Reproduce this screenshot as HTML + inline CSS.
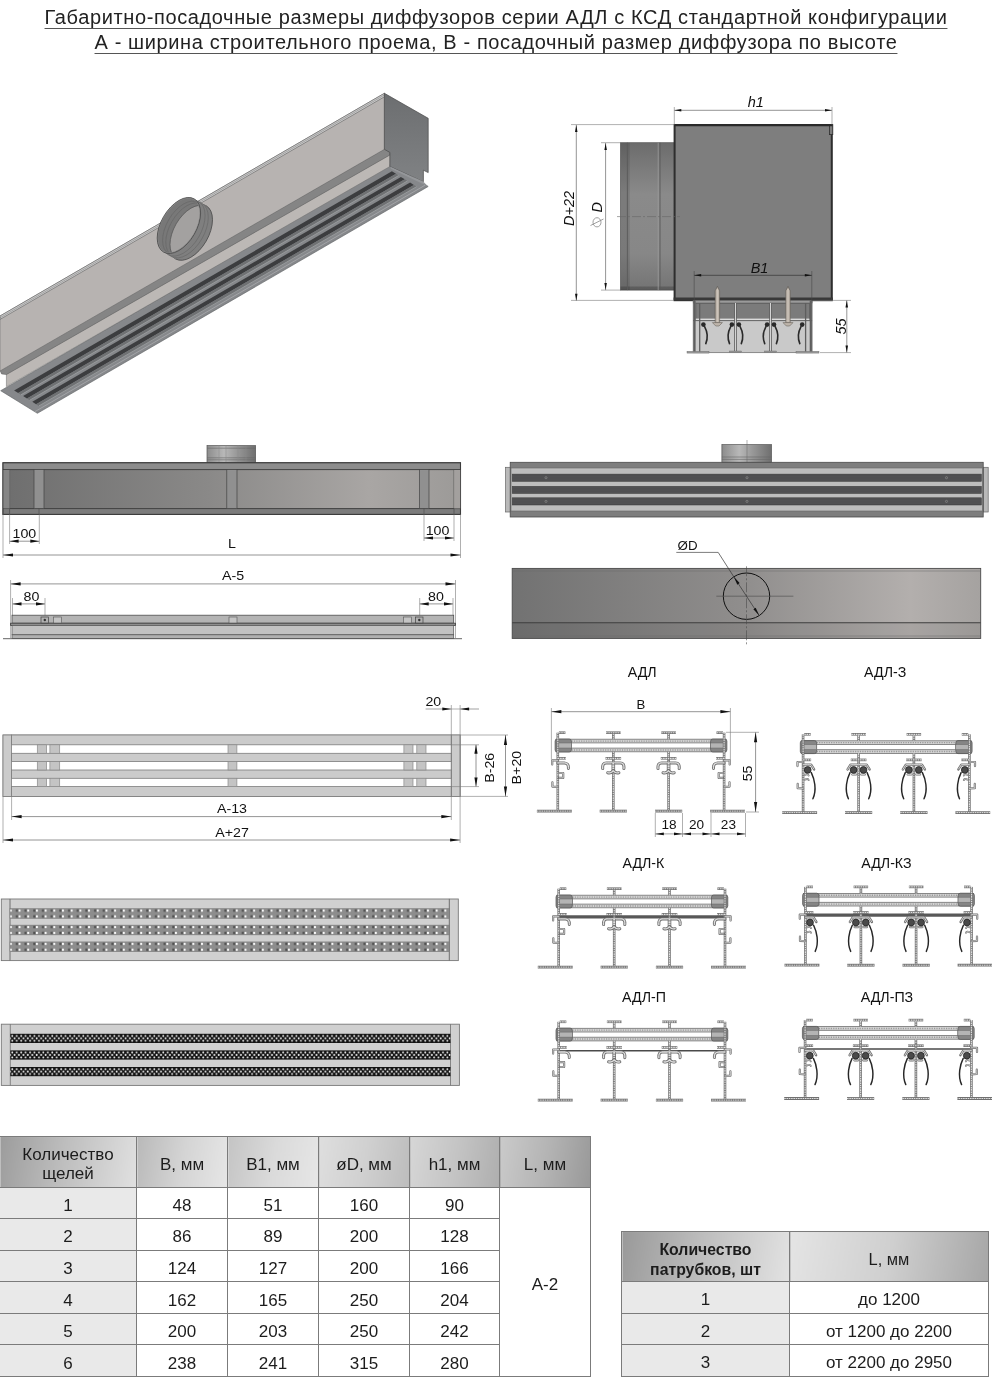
<!DOCTYPE html>
<html lang="ru"><head><meta charset="utf-8"><title>АДЛ с КСД</title>
<style>
html,body{margin:0;padding:0;background:#fff;}
body{width:992px;height:1385px;position:relative;overflow:hidden;font-family:"Liberation Sans",sans-serif;color:#1a1a1a;}
svg{position:absolute;left:0;top:0;}
.title,.tb,svg{will-change:transform;}
svg text{font-family:"Liberation Sans",sans-serif;}
.title{position:absolute;left:0;top:4.5px;width:992px;text-align:center;font-size:20px;line-height:24.7px;color:#222;letter-spacing:0.62px;}
.title span{text-decoration:underline;text-decoration-thickness:1px;text-underline-offset:4px;text-decoration-color:#555;text-decoration-skip-ink:none;white-space:nowrap;}
.tb{position:absolute;border-collapse:collapse;table-layout:fixed;font-size:17px;color:#1c1c1c;}
.tb td,.tb th{border:1px solid #7b7b7b;text-align:center;vertical-align:middle;padding:5px 0 0 0;font-weight:normal;overflow:hidden;box-sizing:border-box;}
.tb th{line-height:19.4px;}
#t1{left:-1px;top:1135.5px;width:591px;}
#t1 th{height:50.5px;}
#t1 td{height:31.6px;background:#fff;padding-top:6px;}
#t1 td.f{background:#e9e9e9;}
#t2{left:621px;top:1230.7px;width:367px;font-size:16.4px;}
#t2 th{height:50px;padding-top:6px;}
#t2 td{height:31.7px;background:#fff;font-size:17px;}
#t2 td.f{background:#e9e9e9;}
#t2 th.b{font-weight:bold;font-size:15.8px;}

</style></head><body>
<div class="title"><span>Габаритно-посадочные размеры диффузоров серии АДЛ с КСД стандартной конфигурации</span><br><span>А - ширина строительного проема, В - посадочный размер диффузора по высоте</span></div>
<svg width="992" height="1385" viewBox="0 0 992 1385">
<defs>
<linearGradient id="gFront" x1="0" y1="0" x2="1" y2="0"><stop offset="0" stop-color="#6e6e6e"/><stop offset="0.45" stop-color="#8a8988"/><stop offset="0.8" stop-color="#a9a6a4"/><stop offset="1" stop-color="#9c9a98"/></linearGradient>
<linearGradient id="gTop" x1="0" y1="0" x2="1" y2="0"><stop offset="0" stop-color="#727272"/><stop offset="0.5" stop-color="#908e8d"/><stop offset="0.85" stop-color="#b3afad"/><stop offset="1" stop-color="#a5a2a0"/></linearGradient>
<linearGradient id="gPipeH" x1="0" y1="0" x2="1" y2="0"><stop offset="0" stop-color="#8c8c8c"/><stop offset="0.35" stop-color="#b8b8b8"/><stop offset="0.6" stop-color="#9a9a9a"/><stop offset="1" stop-color="#6f6f6f"/></linearGradient>
<linearGradient id="gPipeV" x1="0" y1="0" x2="0" y2="1"><stop offset="0" stop-color="#6c6c6c"/><stop offset="0.35" stop-color="#8a8a8a"/><stop offset="0.75" stop-color="#878787"/><stop offset="1" stop-color="#747474"/></linearGradient>
<linearGradient id="gEnd" x1="0" y1="0" x2="0" y2="1"><stop offset="0" stop-color="#6c6e70"/><stop offset="1" stop-color="#808284"/></linearGradient>
<pattern id="pDots" x="0" y="0" width="8.69" height="9.8" patternUnits="userSpaceOnUse"><rect width="8.69" height="9.8" fill="#8d8d8d"/><rect x="1.2" y="0.7" width="2.4" height="2.5" fill="#4f4f4f"/><rect x="1.2" y="6.6" width="2.4" height="2.5" fill="#4f4f4f"/><circle cx="4.75" cy="1.95" r="1.2" fill="#fafafa"/><circle cx="4.75" cy="7.85" r="1.2" fill="#fafafa"/></pattern>
<pattern id="pPerf" x="0" y="0" width="4.44" height="9.3" patternUnits="userSpaceOnUse"><rect width="4.44" height="9.3" fill="#141414"/><circle cx="1.1" cy="2.2" r="0.95" fill="#f4f4f4"/><circle cx="3.32" cy="4.55" r="0.95" fill="#f4f4f4"/><circle cx="1.1" cy="6.9" r="0.95" fill="#f4f4f4"/></pattern>
<pattern id="pMesh" x="0" y="0" width="1.6" height="1.6" patternUnits="userSpaceOnUse"><rect width="1.6" height="1.6" fill="#4a4a4c"/><circle cx="0.8" cy="0.8" r="0.35" fill="#7a7a7c"/></pattern>
</defs>

<g id="iso">
<polygon points="0.7,390.7 37.4,413.3 428.2,186.5 391.5,163.9" fill="#86888b" stroke="#5d5f61" stroke-width="0.6" stroke-linejoin="round" />
<polygon points="14.1,390.6 18.2,393.1 396.0,173.8 391.9,171.3" fill="#3c3d3f" />
<polygon points="18.2,393.1 20.9,394.8 398.7,175.5 396.0,173.8" fill="#6f7173" />
<line x1="20.9" y1="394.8" x2="398.7" y2="175.5" stroke="#a4a6a8" stroke-width="0.7" />
<polygon points="23.1,396.1 27.0,398.5 404.8,179.2 400.9,176.9" fill="#3c3d3f" />
<polygon points="27.0,398.5 29.7,400.2 407.5,180.9 404.8,179.2" fill="#6f7173" />
<line x1="29.7" y1="400.2" x2="407.5" y2="180.9" stroke="#a4a6a8" stroke-width="0.7" />
<polygon points="32.3,401.8 36.1,404.2 413.9,184.9 410.1,182.5" fill="#3c3d3f" />
<polygon points="36.1,404.2 38.9,405.9 416.7,186.6 413.9,184.9" fill="#6f7173" />
<line x1="38.9" y1="405.9" x2="416.7" y2="186.6" stroke="#a4a6a8" stroke-width="0.7" />
<line x1="34.8" y1="411.7" x2="425.6" y2="184.9" stroke="#a9abad" stroke-width="0.8" />
<polygon points="6.4,374.2 6.4,386.6 389.9,166.5 389.9,154.6" fill="#bcb8b5" stroke="#6a6a6a" stroke-width="0.5" stroke-linejoin="round" />
<polygon points="0.0,370.8 6.4,374.2 389.9,154.6 389.3,151.6 384.4,149.3 0.0,371.2" fill="#808080" />
<polygon points="0.0,370.2 1.5,373.9 6.4,374.6 389.9,155.0 389.3,151.8 384.4,149.0" fill="#858585" stroke="#5c5c5c" stroke-width="0.5" stroke-linejoin="round" />
<polygon points="0.0,316.0 0.0,371.0 384.4,149.3 384.4,93.3" fill="#b7b3b1" stroke="#666" stroke-width="0.5" stroke-linejoin="round" />
<polygon points="0.0,316.0 0.0,319.4 384.4,96.8 384.4,93.3" fill="#cfcfcf" stroke="#5e5e5e" stroke-width="0.6" stroke-linejoin="round" />
<line x1="0.0" y1="317.8" x2="384.4" y2="95.0" stroke="#777" stroke-width="0.5" />
<polygon points="384.4,93.3 428.2,118.3 428.2,172.6 423.4,170.2 423.4,181.8 389.9,166.5 389.9,152.4 384.4,149.3" fill="url(#gEnd)" stroke="#4a4a4a" stroke-width="0.7" stroke-linejoin="round" />
<polygon points="389.9,166.5 423.4,181.8 428.2,186.5 391.0,168.8" fill="#95979a" />
<clipPath id="cpFront"><ellipse cx="178.9" cy="225.5" rx="29.6" ry="16.9" transform="rotate(-60 178.9 225.5)"/></clipPath>
<ellipse cx="190.8" cy="232.3" rx="30.7" ry="17.7" transform="rotate(-60 190.8 232.3)" fill="#7f7f7f" stroke="#4f4f4f" stroke-width="0.8" />
<polygon points="194.2,198.9 206.2,205.7 175.5,258.9 163.6,252.1" fill="#7f7f7f" />
<ellipse cx="186.6" cy="229.9" rx="30.7" ry="17.7" transform="rotate(-60 186.6 229.9)" fill="none" stroke="#686868" stroke-width="0.6" />
<ellipse cx="183.4" cy="228.1" rx="30.7" ry="17.7" transform="rotate(-60 183.4 228.1)" fill="none" stroke="#686868" stroke-width="0.6" />
<ellipse cx="178.9" cy="225.5" rx="30.7" ry="17.7" transform="rotate(-60 178.9 225.5)" fill="#888888" stroke="#4f4f4f" stroke-width="0.8" />
<ellipse cx="178.9" cy="225.5" rx="29.6" ry="16.9" transform="rotate(-60 178.9 225.5)" fill="#787878" />
<g clip-path="url(#cpFront)">
<ellipse cx="186.6" cy="229.9" rx="29.6" ry="16.9" transform="rotate(-60 186.6 229.9)" fill="none" stroke="#666" stroke-width="0.6" />
<ellipse cx="183.4" cy="228.1" rx="29.6" ry="16.9" transform="rotate(-60 183.4 228.1)" fill="none" stroke="#666" stroke-width="0.6" />
<ellipse cx="190.8" cy="232.3" rx="29.6" ry="16.9" transform="rotate(-60 190.8 232.3)" fill="#a3a1a0" stroke="#585858" stroke-width="0.7" />
</g>
</g>
<g id="xsec">
<rect x="620.5" y="142.7" width="54.0" height="147.4" fill="url(#gPipeV)" stroke="#5a5a5a" stroke-width="0.7" />
<rect x="620.5" y="142.7" width="9.3" height="147.4" fill="#000" stroke="none" stroke-width="0" opacity="0.1"/>
<rect x="620.5" y="286.5" width="54.0" height="3.6" fill="#000" stroke="none" stroke-width="0" opacity="0.2"/>
<line x1="627.4" y1="142.7" x2="627.4" y2="290.1" stroke="#5a5a5a" stroke-width="0.9" />
<line x1="660.0" y1="142.7" x2="660.0" y2="290.1" stroke="#5a5a5a" stroke-width="0.9" />
<line x1="658.2" y1="142.7" x2="658.2" y2="290.1" stroke="#9c9c9c" stroke-width="0.8" />
<rect x="674.6" y="125.0" width="157.2" height="175.2" fill="#7e7e7e" stroke="#2e2e2e" stroke-width="2" />
<rect x="829.5" y="124.6" width="3.3" height="10.0" fill="#7c7c7c" stroke="#2e2e2e" stroke-width="0.8" />
<line x1="674.3" y1="125.2" x2="832.6" y2="125.2" stroke="#2a2a2a" stroke-width="2.2" />
<line x1="673.6" y1="298.9" x2="832.8" y2="298.9" stroke="#383838" stroke-width="3" />
<line x1="617.0" y1="216.6" x2="680.0" y2="216.6" stroke="#666" stroke-width="0.6" stroke-dasharray="9 2 2 2"/>
<rect x="693.2" y="300.4" width="118.9" height="52.3" fill="#c9c9c9" stroke="#666" stroke-width="0.7" />
<rect x="695.8" y="303.0" width="113.6" height="16.5" fill="#7b7b7b" stroke="#4c4c4c" stroke-width="0.7" />
<rect x="693.2" y="300.4" width="118.9" height="2.6" fill="#9a9a9a" stroke="#555" stroke-width="0.5" />
<rect x="695.8" y="318.6" width="113.6" height="2.2" fill="#dcdcdc" />
<line x1="693.2" y1="320.6" x2="812.1" y2="320.6" stroke="#555" stroke-width="0.9" />
<line x1="694.5" y1="300.4" x2="694.5" y2="352.0" stroke="#5e5e5e" stroke-width="2.2" />
<line x1="810.8" y1="300.4" x2="810.8" y2="352.0" stroke="#5e5e5e" stroke-width="2.2" />
<line x1="699.7" y1="303.0" x2="699.7" y2="352.0" stroke="#5e5e5e" stroke-width="1.3" />
<line x1="805.6" y1="303.0" x2="805.6" y2="352.0" stroke="#5e5e5e" stroke-width="1.3" />
<line x1="735.5" y1="303.0" x2="735.5" y2="351.5" stroke="#5a5a5a" stroke-width="2.6" />
<line x1="735.5" y1="303.0" x2="735.5" y2="351.5" stroke="#d4d4d4" stroke-width="1.1" />
<rect x="729.5" y="351.0" width="12.0" height="1.8" fill="#999" stroke="#666" stroke-width="0.4" />
<line x1="770.5" y1="303.0" x2="770.5" y2="351.5" stroke="#5a5a5a" stroke-width="2.6" />
<line x1="770.5" y1="303.0" x2="770.5" y2="351.5" stroke="#d4d4d4" stroke-width="1.1" />
<rect x="764.5" y="351.0" width="12.0" height="1.8" fill="#999" stroke="#666" stroke-width="0.4" />
<rect x="687.0" y="351.3" width="22.0" height="1.8" fill="#999" stroke="#666" stroke-width="0.4" />
<rect x="796.0" y="351.3" width="23.0" height="1.8" fill="#999" stroke="#666" stroke-width="0.4" />
<polygon points="715.2,323.0 715.2,290.8 717.4,286.4 719.6,290.8 719.6,323.0" fill="#bdb4aa" stroke="#5a554f" stroke-width="0.6" stroke-linejoin="round" />
<polygon points="712.4,322.6 722.4,322.6 719.0,326.0 715.8,326.0" fill="#bdb4aa" stroke="#5a554f" stroke-width="0.5" stroke-linejoin="round" />
<line x1="717.4" y1="289.0" x2="717.4" y2="322.0" stroke="#d2cac1" stroke-width="0.8" />
<polygon points="785.8,323.0 785.8,290.8 788.0,286.4 790.2,290.8 790.2,323.0" fill="#bdb4aa" stroke="#5a554f" stroke-width="0.6" stroke-linejoin="round" />
<polygon points="783.0,322.6 793.0,322.6 789.6,326.0 786.4,326.0" fill="#bdb4aa" stroke="#5a554f" stroke-width="0.5" stroke-linejoin="round" />
<line x1="788.0" y1="289.0" x2="788.0" y2="322.0" stroke="#d2cac1" stroke-width="0.8" />
<circle cx="703.4" cy="324.6" r="2.3" fill="#2a2a2a"/>
<path d="M704.6,326.6 q4.6,8.5 1.2,17.0" fill="none" stroke="#2a2a2a" stroke-width="1.6" stroke-linecap="round"/>
<circle cx="731.9" cy="324.6" r="2.3" fill="#2a2a2a"/>
<path d="M730.7,326.6 q-4.6,8.5 -1.2,17.0" fill="none" stroke="#2a2a2a" stroke-width="1.6" stroke-linecap="round"/>
<circle cx="738.9" cy="324.6" r="2.3" fill="#2a2a2a"/>
<path d="M740.1,326.6 q4.6,8.5 1.2,17.0" fill="none" stroke="#2a2a2a" stroke-width="1.6" stroke-linecap="round"/>
<circle cx="767.1" cy="324.6" r="2.3" fill="#2a2a2a"/>
<path d="M765.9,326.6 q-4.6,8.5 -1.2,17.0" fill="none" stroke="#2a2a2a" stroke-width="1.6" stroke-linecap="round"/>
<circle cx="774.0" cy="324.6" r="2.3" fill="#2a2a2a"/>
<path d="M775.2,326.6 q4.6,8.5 1.2,17.0" fill="none" stroke="#2a2a2a" stroke-width="1.6" stroke-linecap="round"/>
<circle cx="802.2" cy="324.6" r="2.3" fill="#2a2a2a"/>
<path d="M801.0,326.6 q-4.6,8.5 -1.2,17.0" fill="none" stroke="#2a2a2a" stroke-width="1.6" stroke-linecap="round"/>
<line x1="674.3" y1="124.6" x2="674.3" y2="107.0" stroke="#7a7a7a" stroke-width="0.6" />
<line x1="832.0" y1="124.6" x2="832.0" y2="107.0" stroke="#7a7a7a" stroke-width="0.6" />
<line x1="674.3" y1="110.3" x2="832.0" y2="110.3" stroke="#7a7a7a" stroke-width="0.8" />
<polygon points="674.3,110.3 681.3,109.0 681.3,111.5" fill="#111"/>
<polygon points="832.0,110.3 825.0,111.5 825.0,109.0" fill="#111"/>
<text x="0" y="0" transform="translate(755.8 107.0)" font-size="14.5" text-anchor="middle" fill="#111" font-weight="normal" font-style="italic">h1</text>
<line x1="674.0" y1="124.6" x2="571.0" y2="124.6" stroke="#7a7a7a" stroke-width="0.6" />
<line x1="674.0" y1="300.4" x2="571.0" y2="300.4" stroke="#7a7a7a" stroke-width="0.6" />
<line x1="576.3" y1="124.9" x2="576.3" y2="300.7" stroke="#7a7a7a" stroke-width="0.8" />
<polygon points="576.3,124.9 577.5,131.9 575.0,131.9" fill="#111"/>
<polygon points="576.3,300.7 575.0,293.7 577.5,293.7" fill="#111"/>
<text x="0" y="0" transform="translate(573.5 208.5) rotate(-90)" font-size="14.5" text-anchor="middle" fill="#111" font-weight="normal" font-style="italic">D+22</text>
<line x1="620.5" y1="142.7" x2="601.0" y2="142.7" stroke="#7a7a7a" stroke-width="0.6" />
<line x1="620.5" y1="290.1" x2="601.0" y2="290.1" stroke="#7a7a7a" stroke-width="0.6" />
<line x1="605.6" y1="143.1" x2="605.6" y2="290.1" stroke="#7a7a7a" stroke-width="0.8" />
<polygon points="605.6,143.1 606.9,150.1 604.4,150.1" fill="#111"/>
<polygon points="605.6,290.1 604.4,283.1 606.9,283.1" fill="#111"/>
<text x="0" y="0" transform="translate(602.3 207.2) rotate(-90)" font-size="14.5" text-anchor="middle" fill="#111" font-weight="normal" font-style="italic">D</text>
<g><ellipse cx="597" cy="222.3" rx="4" ry="4.6" fill="none" stroke="#888" stroke-width="0.8"/><line x1="590.5" y1="225.5" x2="603.5" y2="219" stroke="#888" stroke-width="0.8"/></g>
<line x1="694.2" y1="271.0" x2="694.2" y2="301.0" stroke="#4a4a4a" stroke-width="0.6" />
<line x1="811.8" y1="271.0" x2="811.8" y2="301.0" stroke="#4a4a4a" stroke-width="0.6" />
<line x1="694.2" y1="275.3" x2="811.8" y2="275.3" stroke="#333" stroke-width="0.7" />
<polygon points="694.2,275.3 701.2,274.1 701.2,276.6" fill="#111"/>
<polygon points="811.8,275.3 804.8,276.6 804.8,274.1" fill="#111"/>
<text x="0" y="0" transform="translate(759.5 272.5)" font-size="14.5" text-anchor="middle" fill="#111" font-weight="normal" font-style="italic">B1</text>
<line x1="813.0" y1="300.4" x2="851.0" y2="300.4" stroke="#7a7a7a" stroke-width="0.6" />
<line x1="820.0" y1="352.6" x2="851.0" y2="352.6" stroke="#7a7a7a" stroke-width="0.6" />
<line x1="846.8" y1="300.4" x2="846.8" y2="352.6" stroke="#7a7a7a" stroke-width="0.8" />
<polygon points="846.8,300.4 848.0,307.4 845.5,307.4" fill="#111"/>
<polygon points="846.8,352.6 845.5,345.6 848.0,345.6" fill="#111"/>
<text x="0" y="0" transform="translate(845.5 326.5) rotate(-90)" font-size="14.5" text-anchor="middle" fill="#111" font-weight="normal" font-style="italic">55</text>
</g>
<g id="front">
<rect x="207.0" y="445.6" width="48.6" height="17.5" fill="url(#gPipeH)" stroke="#555" stroke-width="0.7" />
<line x1="207.0" y1="448.2" x2="255.6" y2="448.2" stroke="#666" stroke-width="0.6" />
<line x1="207.0" y1="457.8" x2="255.6" y2="457.8" stroke="#666" stroke-width="0.6" />
<line x1="207.0" y1="459.8" x2="255.6" y2="459.8" stroke="#666" stroke-width="0.6" />
<line x1="219.0" y1="445.6" x2="219.0" y2="463.0" stroke="#8a8a8a" stroke-width="0.5" />
<line x1="226.0" y1="445.6" x2="226.0" y2="463.0" stroke="#8a8a8a" stroke-width="0.5" />
<line x1="238.0" y1="445.6" x2="238.0" y2="463.0" stroke="#8a8a8a" stroke-width="0.5" />
<line x1="246.0" y1="445.6" x2="246.0" y2="463.0" stroke="#8a8a8a" stroke-width="0.5" />
<rect x="3.0" y="462.8" width="457.5" height="51.6" fill="#808080" stroke="#3c3c3c" stroke-width="1" />
<rect x="3.0" y="469.6" width="457.5" height="39.0" fill="url(#gFront)" />
<rect x="3.0" y="462.8" width="457.5" height="6.8" fill="#8c8c8c" />
<rect x="3.0" y="508.6" width="457.5" height="5.8" fill="#7c7c7c" />
<line x1="3.0" y1="469.6" x2="460.5" y2="469.6" stroke="#3a3a3a" stroke-width="0.9" />
<line x1="3.0" y1="508.6" x2="460.5" y2="508.6" stroke="#3a3a3a" stroke-width="0.9" />
<rect x="3.0" y="462.8" width="457.5" height="51.6" fill="none" stroke="#3c3c3c" stroke-width="1.1" />
<rect x="34.0" y="469.6" width="10.0" height="39.0" fill="#909090" stroke="#444" stroke-width="0.7" />
<rect x="226.8" y="469.6" width="10.2" height="39.0" fill="#909090" stroke="#444" stroke-width="0.7" />
<rect x="419.4" y="469.6" width="9.6" height="39.0" fill="#909090" stroke="#444" stroke-width="0.7" />
<line x1="9.6" y1="469.6" x2="9.6" y2="514.4" stroke="#4a4a4a" stroke-width="0.7" />
<line x1="454.0" y1="469.6" x2="454.0" y2="514.4" stroke="#4a4a4a" stroke-width="0.7" />
<rect x="3.5" y="470.0" width="6.0" height="38.4" fill="#858585" />
<rect x="454.2" y="470.0" width="6.0" height="38.4" fill="#a3a09e" />
<line x1="39.0" y1="508.6" x2="39.0" y2="514.4" stroke="#4a4a4a" stroke-width="0.6" />
<line x1="424.0" y1="508.6" x2="424.0" y2="514.4" stroke="#4a4a4a" stroke-width="0.6" />
<line x1="9.6" y1="514.4" x2="9.6" y2="544.0" stroke="#7a7a7a" stroke-width="0.6" />
<line x1="39.3" y1="514.4" x2="39.3" y2="544.0" stroke="#7a7a7a" stroke-width="0.6" />
<line x1="9.6" y1="541.2" x2="39.3" y2="541.2" stroke="#7a7a7a" stroke-width="0.8" />
<polygon points="9.6,541.2 18.6,539.6 18.6,542.8" fill="#111"/>
<polygon points="39.3,541.2 30.3,542.8 30.3,539.6" fill="#111"/>
<text x="0" y="0" transform="translate(24.4 537.5) scale(1.07 1)" font-size="13.3" text-anchor="middle" fill="#111" font-weight="normal" >100</text>
<line x1="424.0" y1="514.4" x2="424.0" y2="541.0" stroke="#7a7a7a" stroke-width="0.6" />
<line x1="454.0" y1="514.4" x2="454.0" y2="541.0" stroke="#7a7a7a" stroke-width="0.6" />
<line x1="424.0" y1="538.0" x2="454.0" y2="538.0" stroke="#7a7a7a" stroke-width="0.8" />
<polygon points="424.0,538.0 433.0,536.4 433.0,539.6" fill="#111"/>
<polygon points="454.0,538.0 445.0,539.6 445.0,536.4" fill="#111"/>
<text x="0" y="0" transform="translate(437.5 534.5) scale(1.07 1)" font-size="13.3" text-anchor="middle" fill="#111" font-weight="normal" >100</text>
<line x1="3.0" y1="514.4" x2="3.0" y2="558.0" stroke="#7a7a7a" stroke-width="0.6" />
<line x1="460.5" y1="514.4" x2="460.5" y2="558.0" stroke="#7a7a7a" stroke-width="0.6" />
<line x1="3.0" y1="555.0" x2="460.5" y2="555.0" stroke="#7a7a7a" stroke-width="0.8" />
<polygon points="3.0,555.0 13.0,553.4 13.0,556.6" fill="#111"/>
<polygon points="460.5,555.0 450.5,556.6 450.5,553.4" fill="#111"/>
<text x="0" y="0" transform="translate(232.0 548.3) scale(1.07 1)" font-size="13.3" text-anchor="middle" fill="#111" font-weight="normal" >L</text>
</g>
<g id="strip">
<line x1="10.6" y1="580.0" x2="10.6" y2="638.0" stroke="#7a7a7a" stroke-width="0.6" />
<line x1="455.5" y1="580.0" x2="455.5" y2="638.0" stroke="#7a7a7a" stroke-width="0.6" />
<line x1="10.6" y1="583.9" x2="455.5" y2="583.9" stroke="#7a7a7a" stroke-width="0.8" />
<polygon points="10.6,583.9 20.6,582.3 20.6,585.5" fill="#111"/>
<polygon points="455.5,583.9 445.5,585.5 445.5,582.3" fill="#111"/>
<text x="0" y="0" transform="translate(233.0 580.3) scale(1.07 1)" font-size="13.3" text-anchor="middle" fill="#111" font-weight="normal" >A-5</text>
<line x1="12.5" y1="598.0" x2="12.5" y2="616.0" stroke="#7a7a7a" stroke-width="0.6" />
<line x1="45.0" y1="598.0" x2="45.0" y2="622.0" stroke="#7a7a7a" stroke-width="0.6" />
<line x1="12.5" y1="603.9" x2="45.0" y2="603.9" stroke="#7a7a7a" stroke-width="0.8" />
<polygon points="12.5,603.9 21.5,602.3 21.5,605.5" fill="#111"/>
<polygon points="45.0,603.9 36.0,605.5 36.0,602.3" fill="#111"/>
<text x="0" y="0" transform="translate(31.5 600.8) scale(1.07 1)" font-size="13.3" text-anchor="middle" fill="#111" font-weight="normal" >80</text>
<line x1="419.7" y1="598.0" x2="419.7" y2="622.0" stroke="#7a7a7a" stroke-width="0.6" />
<line x1="453.0" y1="598.0" x2="453.0" y2="616.0" stroke="#7a7a7a" stroke-width="0.6" />
<line x1="419.7" y1="603.9" x2="453.0" y2="603.9" stroke="#7a7a7a" stroke-width="0.8" />
<polygon points="419.7,603.9 428.7,602.3 428.7,605.5" fill="#111"/>
<polygon points="453.0,603.9 444.0,605.5 444.0,602.3" fill="#111"/>
<text x="0" y="0" transform="translate(436.0 600.8) scale(1.07 1)" font-size="13.3" text-anchor="middle" fill="#111" font-weight="normal" >80</text>
<rect x="12.0" y="615.2" width="441.7" height="8.0" fill="#b4b4b4" stroke="#4e4e4e" stroke-width="0.8" />
<rect x="10.6" y="623.2" width="444.9" height="2.2" fill="#8e8e8e" stroke="#3c3c3c" stroke-width="0.8" />
<rect x="12.0" y="625.4" width="441.7" height="9.4" fill="#c2c2c2" stroke="#555" stroke-width="0.7" />
<rect x="12.0" y="634.8" width="441.7" height="3.6" fill="#b0b0b0" stroke="#555" stroke-width="0.7" />
<line x1="3.0" y1="638.7" x2="462.0" y2="638.7" stroke="#555" stroke-width="0.9" />
<rect x="53.5" y="617.0" width="8.0" height="6.0" fill="#c4c4c4" stroke="#555" stroke-width="0.6" />
<rect x="229.0" y="617.0" width="8.0" height="6.0" fill="#c4c4c4" stroke="#555" stroke-width="0.6" />
<rect x="403.5" y="617.0" width="8.0" height="6.0" fill="#c4c4c4" stroke="#555" stroke-width="0.6" />
<rect x="41.0" y="617.0" width="7.5" height="6.0" fill="#b0b0b0" stroke="#444" stroke-width="0.7" />
<circle cx="44.8" cy="620" r="1.2" fill="#333"/>
<rect x="415.5" y="617.0" width="7.5" height="6.0" fill="#b0b0b0" stroke="#444" stroke-width="0.7" />
<circle cx="419.3" cy="620" r="1.2" fill="#333"/>
</g>
<g id="bottomview">
<rect x="721.9" y="444.6" width="49.6" height="18.0" fill="url(#gPipeH)" stroke="#555" stroke-width="0.7" />
<line x1="721.9" y1="457.0" x2="771.5" y2="457.0" stroke="#666" stroke-width="0.6" />
<line x1="721.9" y1="459.4" x2="771.5" y2="459.4" stroke="#666" stroke-width="0.6" />
<line x1="747.0" y1="440.0" x2="747.0" y2="465.0" stroke="#666" stroke-width="0.5" />
<rect x="505.6" y="467.3" width="5.0" height="44.7" fill="#b9b9b9" stroke="#666" stroke-width="0.7" />
<rect x="983.2" y="467.3" width="5.0" height="44.7" fill="#b9b9b9" stroke="#666" stroke-width="0.7" />
<rect x="510.2" y="462.3" width="473.0" height="54.7" fill="#7e7e7e" stroke="#4a4a4a" stroke-width="0.8" />
<rect x="511.0" y="468.0" width="471.4" height="43.0" fill="#bdbdbd" stroke="#666" stroke-width="0.6" />
<rect x="512.2" y="474.1" width="469.2" height="7.3" fill="url(#pMesh)" stroke="#3a3a3a" stroke-width="0.5" />
<rect x="512.2" y="486.3" width="469.2" height="7.2" fill="url(#pMesh)" stroke="#3a3a3a" stroke-width="0.5" />
<rect x="512.2" y="497.8" width="469.2" height="7.2" fill="url(#pMesh)" stroke="#3a3a3a" stroke-width="0.5" />
<circle cx="546" cy="477.7" r="1.1" fill="#555" stroke="#aaa" stroke-width="0.4"/>
<circle cx="546" cy="501.4" r="1.1" fill="#555" stroke="#aaa" stroke-width="0.4"/>
<circle cx="747" cy="477.7" r="1.1" fill="#555" stroke="#aaa" stroke-width="0.4"/>
<circle cx="747" cy="501.4" r="1.1" fill="#555" stroke="#aaa" stroke-width="0.4"/>
<circle cx="946.5" cy="477.7" r="1.1" fill="#555" stroke="#aaa" stroke-width="0.4"/>
<circle cx="946.5" cy="501.4" r="1.1" fill="#555" stroke="#aaa" stroke-width="0.4"/>
</g>
<g id="topview">
<rect x="512.2" y="568.4" width="468.5" height="70.0" fill="url(#gTop)" stroke="#4a4a4a" stroke-width="0.9" />
<rect x="512.2" y="622.7" width="468.5" height="16.0" fill="#000" stroke="none" stroke-width="0" opacity="0.06"/>
<line x1="512.2" y1="622.7" x2="980.7" y2="622.7" stroke="#3e3e3e" stroke-width="1.1" />
<line x1="512.2" y1="571.0" x2="980.7" y2="571.0" stroke="#6a6a6a" stroke-width="0.5" />
<line x1="512.2" y1="636.0" x2="980.7" y2="636.0" stroke="#6a6a6a" stroke-width="0.5" />
<circle cx="746.5" cy="596.2" r="23.2" fill="none" stroke="#111" stroke-width="1"/>
<line x1="716.3" y1="596.2" x2="793.4" y2="596.2" stroke="#4a4a4a" stroke-width="0.6" />
<line x1="746.5" y1="566.3" x2="746.5" y2="645.2" stroke="#4a4a4a" stroke-width="0.6" stroke-dasharray="10 2 2 2"/>
<line x1="676.3" y1="552.4" x2="718.2" y2="552.4" stroke="#444" stroke-width="0.7" />
<line x1="718.2" y1="552.4" x2="733.8" y2="576.8" stroke="#333" stroke-width="0.7" />
<line x1="733.8" y1="576.8" x2="759.2" y2="615.6" stroke="#333" stroke-width="0.7" />
<polygon points="733.8,576.8 739.6,583.1 737.3,584.7" fill="#111"/>
<polygon points="759.2,615.6 753.4,609.3 755.7,607.7" fill="#111"/>
<text x="0" y="0" transform="translate(677.6 549.9)" font-size="13.3" text-anchor="start" fill="#111" font-weight="normal" >ØD</text>
</g>
<g id="grille1">
<rect x="3.0" y="735.0" width="457.1" height="61.4" fill="#fff" stroke="#7c7c7c" stroke-width="0.8" />
<rect x="3.0" y="735.0" width="8.6" height="61.4" fill="#cbcbcb" stroke="#7c7c7c" stroke-width="0.8" />
<rect x="451.3" y="735.0" width="8.8" height="61.4" fill="#cbcbcb" stroke="#7c7c7c" stroke-width="0.8" />
<rect x="11.6" y="735.0" width="439.7" height="9.8" fill="#cbcbcb" stroke="#7c7c7c" stroke-width="0.8" />
<rect x="11.6" y="753.3" width="439.7" height="8.3" fill="#cbcbcb" stroke="#7c7c7c" stroke-width="0.8" />
<rect x="11.6" y="770.0" width="439.7" height="8.3" fill="#cbcbcb" stroke="#7c7c7c" stroke-width="0.8" />
<rect x="11.6" y="786.6" width="439.7" height="9.8" fill="#cbcbcb" stroke="#7c7c7c" stroke-width="0.8" />
<rect x="37.3" y="744.8" width="9.3" height="8.5" fill="#c4c4c4" stroke="#8a8a8a" stroke-width="0.7" />
<rect x="49.9" y="744.8" width="9.8" height="8.5" fill="#c4c4c4" stroke="#8a8a8a" stroke-width="0.7" />
<rect x="228.0" y="744.8" width="8.9" height="8.5" fill="#c4c4c4" stroke="#8a8a8a" stroke-width="0.7" />
<rect x="403.9" y="744.8" width="9.1" height="8.5" fill="#c4c4c4" stroke="#8a8a8a" stroke-width="0.7" />
<rect x="416.8" y="744.8" width="9.2" height="8.5" fill="#c4c4c4" stroke="#8a8a8a" stroke-width="0.7" />
<rect x="37.3" y="761.6" width="9.3" height="8.4" fill="#c4c4c4" stroke="#8a8a8a" stroke-width="0.7" />
<rect x="49.9" y="761.6" width="9.8" height="8.4" fill="#c4c4c4" stroke="#8a8a8a" stroke-width="0.7" />
<rect x="228.0" y="761.6" width="8.9" height="8.4" fill="#c4c4c4" stroke="#8a8a8a" stroke-width="0.7" />
<rect x="403.9" y="761.6" width="9.1" height="8.4" fill="#c4c4c4" stroke="#8a8a8a" stroke-width="0.7" />
<rect x="416.8" y="761.6" width="9.2" height="8.4" fill="#c4c4c4" stroke="#8a8a8a" stroke-width="0.7" />
<rect x="37.3" y="778.3" width="9.3" height="8.3" fill="#c4c4c4" stroke="#8a8a8a" stroke-width="0.7" />
<rect x="49.9" y="778.3" width="9.8" height="8.3" fill="#c4c4c4" stroke="#8a8a8a" stroke-width="0.7" />
<rect x="228.0" y="778.3" width="8.9" height="8.3" fill="#c4c4c4" stroke="#8a8a8a" stroke-width="0.7" />
<rect x="403.9" y="778.3" width="9.1" height="8.3" fill="#c4c4c4" stroke="#8a8a8a" stroke-width="0.7" />
<rect x="416.8" y="778.3" width="9.2" height="8.3" fill="#c4c4c4" stroke="#8a8a8a" stroke-width="0.7" />
<line x1="11.6" y1="796.4" x2="11.6" y2="820.0" stroke="#7a7a7a" stroke-width="0.6" />
<line x1="3.0" y1="796.4" x2="3.0" y2="843.0" stroke="#7a7a7a" stroke-width="0.6" />
<line x1="451.3" y1="705.0" x2="451.3" y2="820.0" stroke="#7a7a7a" stroke-width="0.6" />
<line x1="460.1" y1="705.0" x2="460.1" y2="843.0" stroke="#7a7a7a" stroke-width="0.6" />
<line x1="11.6" y1="816.6" x2="451.3" y2="816.6" stroke="#7a7a7a" stroke-width="0.8" />
<polygon points="11.6,816.6 21.6,815.0 21.6,818.2" fill="#111"/>
<polygon points="451.3,816.6 441.3,818.2 441.3,815.0" fill="#111"/>
<line x1="3.0" y1="840.0" x2="460.1" y2="840.0" stroke="#7a7a7a" stroke-width="0.8" />
<polygon points="3.0,840.0 13.0,838.4 13.0,841.6" fill="#111"/>
<polygon points="460.1,840.0 450.1,841.6 450.1,838.4" fill="#111"/>
<text x="0" y="0" transform="translate(232.0 813.0) scale(1.07 1)" font-size="13.3" text-anchor="middle" fill="#111" font-weight="normal" >A-13</text>
<text x="0" y="0" transform="translate(232.0 837.0) scale(1.07 1)" font-size="13.3" text-anchor="middle" fill="#111" font-weight="normal" >A+27</text>
<line x1="425.6" y1="709.0" x2="451.3" y2="709.0" stroke="#7a7a7a" stroke-width="0.7" />
<line x1="460.1" y1="709.0" x2="479.0" y2="709.0" stroke="#7a7a7a" stroke-width="0.7" />
<line x1="451.3" y1="709.0" x2="460.1" y2="709.0" stroke="#7a7a7a" stroke-width="0.6" />
<polygon points="451.3,709.0 442.3,710.6 442.3,707.4" fill="#111"/>
<polygon points="460.1,709.0 469.1,707.4 469.1,710.6" fill="#111"/>
<text x="0" y="0" transform="translate(433.3 705.6) scale(1.07 1)" font-size="13.3" text-anchor="middle" fill="#111" font-weight="normal" >20</text>
<line x1="460.1" y1="735.0" x2="508.0" y2="735.0" stroke="#7a7a7a" stroke-width="0.6" />
<line x1="460.1" y1="796.4" x2="508.0" y2="796.4" stroke="#7a7a7a" stroke-width="0.6" />
<line x1="451.3" y1="744.8" x2="479.0" y2="744.8" stroke="#7a7a7a" stroke-width="0.6" />
<line x1="451.3" y1="786.6" x2="479.0" y2="786.6" stroke="#7a7a7a" stroke-width="0.6" />
<line x1="476.0" y1="744.8" x2="476.0" y2="786.6" stroke="#7a7a7a" stroke-width="0.8" />
<polygon points="476.0,744.8 477.6,753.8 474.4,753.8" fill="#111"/>
<polygon points="476.0,786.6 474.4,777.6 477.6,777.6" fill="#111"/>
<line x1="505.5" y1="735.0" x2="505.5" y2="796.4" stroke="#7a7a7a" stroke-width="0.8" />
<polygon points="505.5,735.0 507.1,745.0 503.9,745.0" fill="#111"/>
<polygon points="505.5,796.4 503.9,786.4 507.1,786.4" fill="#111"/>
<text x="0" y="0" transform="translate(493.5 767.8) rotate(-90) scale(1.07 1)" font-size="13.3" text-anchor="middle" fill="#111" font-weight="normal" >B-26</text>
<text x="0" y="0" transform="translate(521.0 767.6) rotate(-90) scale(1.07 1)" font-size="13.3" text-anchor="middle" fill="#111" font-weight="normal" >B+20</text>
</g>
<g id="grille2">
<rect x="1.3" y="899.0" width="457.0" height="61.6" fill="#d0d0d0" stroke="#787878" stroke-width="0.9" />
<line x1="10.0" y1="898.9" x2="10.0" y2="960.6" stroke="#6e6e6e" stroke-width="1" />
<line x1="449.3" y1="898.9" x2="449.3" y2="960.6" stroke="#6e6e6e" stroke-width="1" />
<g transform="translate(6 908.6)"><rect x="4" y="0" width="439.3" height="9.8" fill="url(#pDots)" stroke="#777" stroke-width="0.5"/></g>
<g transform="translate(6 925.1)"><rect x="4" y="0" width="439.3" height="9.8" fill="url(#pDots)" stroke="#777" stroke-width="0.5"/></g>
<g transform="translate(6 941.9)"><rect x="4" y="0" width="439.3" height="9.8" fill="url(#pDots)" stroke="#777" stroke-width="0.5"/></g>
</g>
<g id="grille3">
<rect x="1.3" y="1024.2" width="458.1" height="61.2" fill="#d0d0d0" stroke="#787878" stroke-width="0.9" />
<line x1="10.3" y1="1024.2" x2="10.3" y2="1085.4" stroke="#707070" stroke-width="0.8" />
<line x1="450.5" y1="1024.2" x2="450.5" y2="1085.4" stroke="#707070" stroke-width="0.8" />
<g transform="translate(11.2 1033.8)"><rect x="-0.9" y="0" width="440.2" height="9.2" fill="url(#pPerf)"/></g>
<g transform="translate(11.2 1050.4)"><rect x="-0.9" y="0" width="440.2" height="9.2" fill="url(#pPerf)"/></g>
<g transform="translate(11.2 1067)"><rect x="-0.9" y="0" width="440.2" height="9.2" fill="url(#pPerf)"/></g>
</g>
<g>
<rect x="556.1" y="739.2" width="169.8" height="3.7" fill="#d4d4d4" stroke="#707070" stroke-width="0.8" />
<rect x="556.1" y="748.1" width="169.8" height="3.7" fill="#d4d4d4" stroke="#707070" stroke-width="0.8" />
<line x1="557.1" y1="741.1" x2="724.9" y2="741.1" stroke="#9a9a9a" stroke-width="1.4" stroke-dasharray="1.2 1.2"/>
<line x1="557.1" y1="750.0" x2="724.9" y2="750.0" stroke="#9a9a9a" stroke-width="1.4" stroke-dasharray="1.2 1.2"/>
<rect x="555.1" y="739.0" width="16.3" height="13" rx="2.2" fill="#858585" stroke="#505050" stroke-width="0.7"/>
<rect x="556.6" y="743.0" width="14.8" height="5" fill="#b4b4b4" stroke="#666" stroke-width="0.5"/>
<rect x="710.6" y="739.0" width="16.3" height="13" rx="2.2" fill="#858585" stroke="#505050" stroke-width="0.7"/>
<rect x="710.6" y="743.0" width="14.8" height="5" fill="#b4b4b4" stroke="#666" stroke-width="0.5"/>
<path d="M558.9,732.7 H565.4" fill="none" stroke="#707070" stroke-width="2.6" stroke-linecap="butt" stroke-linejoin="round"/>
<path d="M558.9,732.7 H565.4" fill="none" stroke="#e0e0e0" stroke-width="1.15" stroke-linecap="butt" stroke-linejoin="round" stroke-dasharray="1.6 0.7"/>
<path d="M557.8,732.7 V811.1" fill="none" stroke="#707070" stroke-width="2.6" stroke-linecap="butt" stroke-linejoin="round"/>
<path d="M557.8,732.7 V811.1" fill="none" stroke="#e0e0e0" stroke-width="1.15" stroke-linecap="butt" stroke-linejoin="round" stroke-dasharray="1.6 0.7"/>
<path d="M557.8,758.3 H565.8" fill="none" stroke="#707070" stroke-width="2.6" stroke-linecap="butt" stroke-linejoin="round"/>
<path d="M557.8,758.3 H565.8" fill="none" stroke="#e0e0e0" stroke-width="1.15" stroke-linecap="butt" stroke-linejoin="round" stroke-dasharray="1.6 0.7"/>
<path d="M536.9,811.1 H571.8" fill="none" stroke="#707070" stroke-width="2.8" stroke-linecap="butt" stroke-linejoin="round"/>
<path d="M536.9,811.1 H571.8" fill="none" stroke="#e0e0e0" stroke-width="1.0" stroke-linecap="butt" stroke-linejoin="round" stroke-dasharray="1.6 0.7"/>
<path d="M557.8,760.4 H552.2 V764.5" fill="none" stroke="#707070" stroke-width="2.2" stroke-linecap="round" stroke-linejoin="round"/>
<path d="M557.8,760.4 H552.2 V764.5" fill="none" stroke="#e0e0e0" stroke-width="0.8" stroke-linecap="round" stroke-linejoin="round" stroke-dasharray="1.6 0.7"/>
<path d="M552.4,782.3 V786.6 L557.8,786.9" fill="none" stroke="#707070" stroke-width="2.2" stroke-linecap="round" stroke-linejoin="round"/>
<path d="M552.4,782.3 V786.6 L557.8,786.9" fill="none" stroke="#e0e0e0" stroke-width="0.8" stroke-linecap="round" stroke-linejoin="round" stroke-dasharray="1.6 0.7"/>
<path d="M557.8,762.9 H564.3 Q568.8,763.2 568.4,768.4" fill="none" stroke="#707070" stroke-width="3.0" stroke-linecap="round" stroke-linejoin="round"/>
<path d="M557.8,762.9 H564.3 Q568.8,763.2 568.4,768.4" fill="none" stroke="#e0e0e0" stroke-width="1.3" stroke-linecap="round" stroke-linejoin="round" stroke-dasharray="1.6 0.7"/>
<path d="M558.8,773.0 H563.2 V777.9 H558.8" fill="none" stroke="#707070" stroke-width="2.2" stroke-linecap="round" stroke-linejoin="round"/>
<path d="M558.8,773.0 H563.2 V777.9 H558.8" fill="none" stroke="#e0e0e0" stroke-width="0.8" stroke-linecap="round" stroke-linejoin="round" stroke-dasharray="1.6 0.7"/>
<path d="M606.0,732.7 H620.6" fill="none" stroke="#707070" stroke-width="2.6" stroke-linecap="butt" stroke-linejoin="round"/>
<path d="M606.0,732.7 H620.6" fill="none" stroke="#e0e0e0" stroke-width="1.15" stroke-linecap="butt" stroke-linejoin="round" stroke-dasharray="1.6 0.7"/>
<path d="M613.3,733.7 V739.2" fill="none" stroke="#707070" stroke-width="2.6" stroke-linecap="butt" stroke-linejoin="round"/>
<path d="M613.3,733.7 V739.2" fill="none" stroke="#e0e0e0" stroke-width="1.15" stroke-linecap="butt" stroke-linejoin="round" stroke-dasharray="1.6 0.7"/>
<path d="M613.3,751.7 V763.0" fill="none" stroke="#707070" stroke-width="2.6" stroke-linecap="butt" stroke-linejoin="round"/>
<path d="M613.3,751.7 V763.0" fill="none" stroke="#e0e0e0" stroke-width="1.15" stroke-linecap="butt" stroke-linejoin="round" stroke-dasharray="1.6 0.7"/>
<path d="M605.5,758.3 H621.1" fill="none" stroke="#707070" stroke-width="2.6" stroke-linecap="butt" stroke-linejoin="round"/>
<path d="M605.5,758.3 H621.1" fill="none" stroke="#e0e0e0" stroke-width="1.15" stroke-linecap="butt" stroke-linejoin="round" stroke-dasharray="1.6 0.7"/>
<path d="M613.3,772.0 V811.1" fill="none" stroke="#707070" stroke-width="2.6" stroke-linecap="butt" stroke-linejoin="round"/>
<path d="M613.3,772.0 V811.1" fill="none" stroke="#e0e0e0" stroke-width="1.15" stroke-linecap="butt" stroke-linejoin="round" stroke-dasharray="1.6 0.7"/>
<path d="M599.7,811.1 H626.9" fill="none" stroke="#707070" stroke-width="2.8" stroke-linecap="butt" stroke-linejoin="round"/>
<path d="M599.7,811.1 H626.9" fill="none" stroke="#e0e0e0" stroke-width="1.0" stroke-linecap="butt" stroke-linejoin="round" stroke-dasharray="1.6 0.7"/>
<path d="M602.7,768.6 Q602.1,762.9 606.3,762.9 H620.3 Q624.5,762.9 623.9,768.6" fill="none" stroke="#707070" stroke-width="3.0" stroke-linecap="round" stroke-linejoin="round"/>
<path d="M602.7,768.6 Q602.1,762.9 606.3,762.9 H620.3 Q624.5,762.9 623.9,768.6" fill="none" stroke="#e0e0e0" stroke-width="1.3" stroke-linecap="round" stroke-linejoin="round" stroke-dasharray="1.6 0.7"/>
<path d="M613.3,763.0 V772.0" fill="none" stroke="#707070" stroke-width="3.6" stroke-linecap="butt" stroke-linejoin="round"/>
<path d="M613.3,763.0 V772.0" fill="none" stroke="#e0e0e0" stroke-width="2.0" stroke-linecap="butt" stroke-linejoin="round" stroke-dasharray="1.6 0.7"/>
<path d="M607.7,772.7 Q611.1,773.6 613.3,770.6 Q615.5,773.6 618.9,772.7" fill="none" stroke="#707070" stroke-width="3.0" stroke-linecap="round" stroke-linejoin="round"/>
<path d="M607.7,772.7 Q611.1,773.6 613.3,770.6 Q615.5,773.6 618.9,772.7" fill="none" stroke="#e0e0e0" stroke-width="1.3" stroke-linecap="round" stroke-linejoin="round" stroke-dasharray="1.6 0.7"/>
<path d="M661.3,732.7 H675.9" fill="none" stroke="#707070" stroke-width="2.6" stroke-linecap="butt" stroke-linejoin="round"/>
<path d="M661.3,732.7 H675.9" fill="none" stroke="#e0e0e0" stroke-width="1.15" stroke-linecap="butt" stroke-linejoin="round" stroke-dasharray="1.6 0.7"/>
<path d="M668.6,733.7 V739.2" fill="none" stroke="#707070" stroke-width="2.6" stroke-linecap="butt" stroke-linejoin="round"/>
<path d="M668.6,733.7 V739.2" fill="none" stroke="#e0e0e0" stroke-width="1.15" stroke-linecap="butt" stroke-linejoin="round" stroke-dasharray="1.6 0.7"/>
<path d="M668.6,751.7 V763.0" fill="none" stroke="#707070" stroke-width="2.6" stroke-linecap="butt" stroke-linejoin="round"/>
<path d="M668.6,751.7 V763.0" fill="none" stroke="#e0e0e0" stroke-width="1.15" stroke-linecap="butt" stroke-linejoin="round" stroke-dasharray="1.6 0.7"/>
<path d="M660.8,758.3 H676.4" fill="none" stroke="#707070" stroke-width="2.6" stroke-linecap="butt" stroke-linejoin="round"/>
<path d="M660.8,758.3 H676.4" fill="none" stroke="#e0e0e0" stroke-width="1.15" stroke-linecap="butt" stroke-linejoin="round" stroke-dasharray="1.6 0.7"/>
<path d="M668.6,772.0 V811.1" fill="none" stroke="#707070" stroke-width="2.6" stroke-linecap="butt" stroke-linejoin="round"/>
<path d="M668.6,772.0 V811.1" fill="none" stroke="#e0e0e0" stroke-width="1.15" stroke-linecap="butt" stroke-linejoin="round" stroke-dasharray="1.6 0.7"/>
<path d="M655.0,811.1 H682.2" fill="none" stroke="#707070" stroke-width="2.8" stroke-linecap="butt" stroke-linejoin="round"/>
<path d="M655.0,811.1 H682.2" fill="none" stroke="#e0e0e0" stroke-width="1.0" stroke-linecap="butt" stroke-linejoin="round" stroke-dasharray="1.6 0.7"/>
<path d="M658.0,768.6 Q657.4,762.9 661.6,762.9 H675.6 Q679.8,762.9 679.2,768.6" fill="none" stroke="#707070" stroke-width="3.0" stroke-linecap="round" stroke-linejoin="round"/>
<path d="M658.0,768.6 Q657.4,762.9 661.6,762.9 H675.6 Q679.8,762.9 679.2,768.6" fill="none" stroke="#e0e0e0" stroke-width="1.3" stroke-linecap="round" stroke-linejoin="round" stroke-dasharray="1.6 0.7"/>
<path d="M668.6,763.0 V772.0" fill="none" stroke="#707070" stroke-width="3.6" stroke-linecap="butt" stroke-linejoin="round"/>
<path d="M668.6,763.0 V772.0" fill="none" stroke="#e0e0e0" stroke-width="2.0" stroke-linecap="butt" stroke-linejoin="round" stroke-dasharray="1.6 0.7"/>
<path d="M663.0,772.7 Q666.4,773.6 668.6,770.6 Q670.8,773.6 674.2,772.7" fill="none" stroke="#707070" stroke-width="3.0" stroke-linecap="round" stroke-linejoin="round"/>
<path d="M663.0,772.7 Q666.4,773.6 668.6,770.6 Q670.8,773.6 674.2,772.7" fill="none" stroke="#e0e0e0" stroke-width="1.3" stroke-linecap="round" stroke-linejoin="round" stroke-dasharray="1.6 0.7"/>
<path d="M723.0,732.7 H716.5" fill="none" stroke="#707070" stroke-width="2.6" stroke-linecap="butt" stroke-linejoin="round"/>
<path d="M723.0,732.7 H716.5" fill="none" stroke="#e0e0e0" stroke-width="1.15" stroke-linecap="butt" stroke-linejoin="round" stroke-dasharray="1.6 0.7"/>
<path d="M724.1,732.7 V811.1" fill="none" stroke="#707070" stroke-width="2.6" stroke-linecap="butt" stroke-linejoin="round"/>
<path d="M724.1,732.7 V811.1" fill="none" stroke="#e0e0e0" stroke-width="1.15" stroke-linecap="butt" stroke-linejoin="round" stroke-dasharray="1.6 0.7"/>
<path d="M724.1,758.3 H716.1" fill="none" stroke="#707070" stroke-width="2.6" stroke-linecap="butt" stroke-linejoin="round"/>
<path d="M724.1,758.3 H716.1" fill="none" stroke="#e0e0e0" stroke-width="1.15" stroke-linecap="butt" stroke-linejoin="round" stroke-dasharray="1.6 0.7"/>
<path d="M745.0,811.1 H710.1" fill="none" stroke="#707070" stroke-width="2.8" stroke-linecap="butt" stroke-linejoin="round"/>
<path d="M745.0,811.1 H710.1" fill="none" stroke="#e0e0e0" stroke-width="1.0" stroke-linecap="butt" stroke-linejoin="round" stroke-dasharray="1.6 0.7"/>
<path d="M724.1,760.4 H729.7 V764.5" fill="none" stroke="#707070" stroke-width="2.2" stroke-linecap="round" stroke-linejoin="round"/>
<path d="M724.1,760.4 H729.7 V764.5" fill="none" stroke="#e0e0e0" stroke-width="0.8" stroke-linecap="round" stroke-linejoin="round" stroke-dasharray="1.6 0.7"/>
<path d="M729.5,782.3 V786.6 L724.1,786.9" fill="none" stroke="#707070" stroke-width="2.2" stroke-linecap="round" stroke-linejoin="round"/>
<path d="M729.5,782.3 V786.6 L724.1,786.9" fill="none" stroke="#e0e0e0" stroke-width="0.8" stroke-linecap="round" stroke-linejoin="round" stroke-dasharray="1.6 0.7"/>
<path d="M724.1,762.9 H717.6 Q713.1,763.2 713.5,768.4" fill="none" stroke="#707070" stroke-width="3.0" stroke-linecap="round" stroke-linejoin="round"/>
<path d="M724.1,762.9 H717.6 Q713.1,763.2 713.5,768.4" fill="none" stroke="#e0e0e0" stroke-width="1.3" stroke-linecap="round" stroke-linejoin="round" stroke-dasharray="1.6 0.7"/>
<path d="M723.1,773.0 H718.7 V777.9 H723.1" fill="none" stroke="#707070" stroke-width="2.2" stroke-linecap="round" stroke-linejoin="round"/>
<path d="M723.1,773.0 H718.7 V777.9 H723.1" fill="none" stroke="#e0e0e0" stroke-width="0.8" stroke-linecap="round" stroke-linejoin="round" stroke-dasharray="1.6 0.7"/>
</g>
<g>
<rect x="801.3" y="740.8" width="169.8" height="3.7" fill="#d4d4d4" stroke="#707070" stroke-width="0.8" />
<rect x="801.3" y="749.7" width="169.8" height="3.7" fill="#d4d4d4" stroke="#707070" stroke-width="0.8" />
<line x1="802.3" y1="742.6" x2="970.1" y2="742.6" stroke="#9a9a9a" stroke-width="1.4" stroke-dasharray="1.2 1.2"/>
<line x1="802.3" y1="751.5" x2="970.1" y2="751.5" stroke="#9a9a9a" stroke-width="1.4" stroke-dasharray="1.2 1.2"/>
<rect x="800.3" y="740.6" width="16.3" height="13" rx="2.2" fill="#858585" stroke="#505050" stroke-width="0.7"/>
<rect x="801.8" y="744.6" width="14.8" height="5" fill="#b4b4b4" stroke="#666" stroke-width="0.5"/>
<rect x="955.8" y="740.6" width="16.3" height="13" rx="2.2" fill="#858585" stroke="#505050" stroke-width="0.7"/>
<rect x="955.8" y="744.6" width="14.8" height="5" fill="#b4b4b4" stroke="#666" stroke-width="0.5"/>
<path d="M804.2,734.3 H810.7" fill="none" stroke="#707070" stroke-width="2.6" stroke-linecap="butt" stroke-linejoin="round"/>
<path d="M804.2,734.3 H810.7" fill="none" stroke="#e0e0e0" stroke-width="1.15" stroke-linecap="butt" stroke-linejoin="round" stroke-dasharray="1.6 0.7"/>
<path d="M803.1,734.3 V812.6" fill="none" stroke="#707070" stroke-width="2.6" stroke-linecap="butt" stroke-linejoin="round"/>
<path d="M803.1,734.3 V812.6" fill="none" stroke="#e0e0e0" stroke-width="1.15" stroke-linecap="butt" stroke-linejoin="round" stroke-dasharray="1.6 0.7"/>
<path d="M803.1,759.9 H811.1" fill="none" stroke="#707070" stroke-width="2.6" stroke-linecap="butt" stroke-linejoin="round"/>
<path d="M803.1,759.9 H811.1" fill="none" stroke="#e0e0e0" stroke-width="1.15" stroke-linecap="butt" stroke-linejoin="round" stroke-dasharray="1.6 0.7"/>
<path d="M782.2,812.6 H817.1" fill="none" stroke="#707070" stroke-width="2.8" stroke-linecap="butt" stroke-linejoin="round"/>
<path d="M782.2,812.6 H817.1" fill="none" stroke="#e0e0e0" stroke-width="1.0" stroke-linecap="butt" stroke-linejoin="round" stroke-dasharray="1.6 0.7"/>
<path d="M803.1,762.0 H797.5 V766.1" fill="none" stroke="#707070" stroke-width="2.2" stroke-linecap="round" stroke-linejoin="round"/>
<path d="M803.1,762.0 H797.5 V766.1" fill="none" stroke="#e0e0e0" stroke-width="0.8" stroke-linecap="round" stroke-linejoin="round" stroke-dasharray="1.6 0.7"/>
<path d="M797.7,783.9 V788.2 L803.1,788.5" fill="none" stroke="#707070" stroke-width="2.2" stroke-linecap="round" stroke-linejoin="round"/>
<path d="M797.7,783.9 V788.2 L803.1,788.5" fill="none" stroke="#e0e0e0" stroke-width="0.8" stroke-linecap="round" stroke-linejoin="round" stroke-dasharray="1.6 0.7"/>
<path d="M803.1,764.6 H811.1 L814.1,769.4" fill="none" stroke="#707070" stroke-width="2.4" stroke-linecap="round" stroke-linejoin="round"/>
<path d="M803.1,764.6 H811.1 L814.1,769.4" fill="none" stroke="#e0e0e0" stroke-width="0.9" stroke-linecap="round" stroke-linejoin="round" stroke-dasharray="1.6 0.7"/>
<path d="M804.6,774.8 Q808.1,773.4 808.7,775.6" fill="none" stroke="#707070" stroke-width="1.8" stroke-linecap="round" stroke-linejoin="round"/>
<path d="M804.6,774.8 Q808.1,773.4 808.7,775.6" fill="none" stroke="#e0e0e0" stroke-width="0.7" stroke-linecap="round" stroke-linejoin="round" stroke-dasharray="1.6 0.7"/>
<path d="M804.6,779.8 Q808.1,778.0 808.7,780.2" fill="none" stroke="#707070" stroke-width="1.8" stroke-linecap="round" stroke-linejoin="round"/>
<path d="M804.6,779.8 Q808.1,778.0 808.7,780.2" fill="none" stroke="#e0e0e0" stroke-width="0.7" stroke-linecap="round" stroke-linejoin="round" stroke-dasharray="1.6 0.7"/>
<circle cx="807.7" cy="769.9" r="3.4" fill="#4a4a4a" stroke="#222" stroke-width="0.8"/>
<path d="M811.3,772.6 C814.3,778.6 817.1,789.6 812.9,798.8" fill="none" stroke="#262626" stroke-width="1.45" stroke-linecap="round"/>
<path d="M851.3,734.3 H865.9" fill="none" stroke="#707070" stroke-width="2.6" stroke-linecap="butt" stroke-linejoin="round"/>
<path d="M851.3,734.3 H865.9" fill="none" stroke="#e0e0e0" stroke-width="1.15" stroke-linecap="butt" stroke-linejoin="round" stroke-dasharray="1.6 0.7"/>
<path d="M858.6,735.3 V740.8" fill="none" stroke="#707070" stroke-width="2.6" stroke-linecap="butt" stroke-linejoin="round"/>
<path d="M858.6,735.3 V740.8" fill="none" stroke="#e0e0e0" stroke-width="1.15" stroke-linecap="butt" stroke-linejoin="round" stroke-dasharray="1.6 0.7"/>
<path d="M858.6,753.3 V764.6" fill="none" stroke="#707070" stroke-width="2.6" stroke-linecap="butt" stroke-linejoin="round"/>
<path d="M858.6,753.3 V764.6" fill="none" stroke="#e0e0e0" stroke-width="1.15" stroke-linecap="butt" stroke-linejoin="round" stroke-dasharray="1.6 0.7"/>
<path d="M850.8,759.9 H866.4" fill="none" stroke="#707070" stroke-width="2.6" stroke-linecap="butt" stroke-linejoin="round"/>
<path d="M850.8,759.9 H866.4" fill="none" stroke="#e0e0e0" stroke-width="1.15" stroke-linecap="butt" stroke-linejoin="round" stroke-dasharray="1.6 0.7"/>
<path d="M858.6,773.6 V812.6" fill="none" stroke="#707070" stroke-width="2.6" stroke-linecap="butt" stroke-linejoin="round"/>
<path d="M858.6,773.6 V812.6" fill="none" stroke="#e0e0e0" stroke-width="1.15" stroke-linecap="butt" stroke-linejoin="round" stroke-dasharray="1.6 0.7"/>
<path d="M845.0,812.6 H872.2" fill="none" stroke="#707070" stroke-width="2.8" stroke-linecap="butt" stroke-linejoin="round"/>
<path d="M845.0,812.6 H872.2" fill="none" stroke="#e0e0e0" stroke-width="1.0" stroke-linecap="butt" stroke-linejoin="round" stroke-dasharray="1.6 0.7"/>
<path d="M858.6,764.6 V774.6" fill="none" stroke="#707070" stroke-width="2.6" stroke-linecap="butt" stroke-linejoin="round"/>
<path d="M858.6,764.6 V774.6" fill="none" stroke="#e0e0e0" stroke-width="1.0" stroke-linecap="butt" stroke-linejoin="round" stroke-dasharray="1.6 0.7"/>
<path d="M847.6,769.4 L850.6,764.6 H866.6 L869.6,769.4" fill="none" stroke="#707070" stroke-width="2.4" stroke-linecap="round" stroke-linejoin="round"/>
<path d="M847.6,769.4 L850.6,764.6 H866.6 L869.6,769.4" fill="none" stroke="#e0e0e0" stroke-width="0.9" stroke-linecap="round" stroke-linejoin="round" stroke-dasharray="1.6 0.7"/>
<path d="M852.3,774.5 H856.1" fill="none" stroke="#707070" stroke-width="2.2" stroke-linecap="round" stroke-linejoin="round"/>
<path d="M852.3,774.5 H856.1" fill="none" stroke="#e0e0e0" stroke-width="0.8" stroke-linecap="round" stroke-linejoin="round" stroke-dasharray="1.6 0.7"/>
<circle cx="853.6" cy="769.9" r="3.4" fill="#4a4a4a" stroke="#222" stroke-width="0.8"/>
<path d="M850.0,772.6 C847.0,778.6 844.2,789.6 848.4,798.8" fill="none" stroke="#262626" stroke-width="1.45" stroke-linecap="round"/>
<path d="M864.9,774.5 H861.1" fill="none" stroke="#707070" stroke-width="2.2" stroke-linecap="round" stroke-linejoin="round"/>
<path d="M864.9,774.5 H861.1" fill="none" stroke="#e0e0e0" stroke-width="0.8" stroke-linecap="round" stroke-linejoin="round" stroke-dasharray="1.6 0.7"/>
<circle cx="863.5" cy="769.9" r="3.4" fill="#4a4a4a" stroke="#222" stroke-width="0.8"/>
<path d="M867.1,772.6 C870.1,778.6 872.9,789.6 868.7,798.8" fill="none" stroke="#262626" stroke-width="1.45" stroke-linecap="round"/>
<path d="M906.6,734.3 H921.1" fill="none" stroke="#707070" stroke-width="2.6" stroke-linecap="butt" stroke-linejoin="round"/>
<path d="M906.6,734.3 H921.1" fill="none" stroke="#e0e0e0" stroke-width="1.15" stroke-linecap="butt" stroke-linejoin="round" stroke-dasharray="1.6 0.7"/>
<path d="M913.9,735.3 V740.8" fill="none" stroke="#707070" stroke-width="2.6" stroke-linecap="butt" stroke-linejoin="round"/>
<path d="M913.9,735.3 V740.8" fill="none" stroke="#e0e0e0" stroke-width="1.15" stroke-linecap="butt" stroke-linejoin="round" stroke-dasharray="1.6 0.7"/>
<path d="M913.9,753.3 V764.6" fill="none" stroke="#707070" stroke-width="2.6" stroke-linecap="butt" stroke-linejoin="round"/>
<path d="M913.9,753.3 V764.6" fill="none" stroke="#e0e0e0" stroke-width="1.15" stroke-linecap="butt" stroke-linejoin="round" stroke-dasharray="1.6 0.7"/>
<path d="M906.1,759.9 H921.6" fill="none" stroke="#707070" stroke-width="2.6" stroke-linecap="butt" stroke-linejoin="round"/>
<path d="M906.1,759.9 H921.6" fill="none" stroke="#e0e0e0" stroke-width="1.15" stroke-linecap="butt" stroke-linejoin="round" stroke-dasharray="1.6 0.7"/>
<path d="M913.9,773.6 V812.6" fill="none" stroke="#707070" stroke-width="2.6" stroke-linecap="butt" stroke-linejoin="round"/>
<path d="M913.9,773.6 V812.6" fill="none" stroke="#e0e0e0" stroke-width="1.15" stroke-linecap="butt" stroke-linejoin="round" stroke-dasharray="1.6 0.7"/>
<path d="M900.2,812.6 H927.5" fill="none" stroke="#707070" stroke-width="2.8" stroke-linecap="butt" stroke-linejoin="round"/>
<path d="M900.2,812.6 H927.5" fill="none" stroke="#e0e0e0" stroke-width="1.0" stroke-linecap="butt" stroke-linejoin="round" stroke-dasharray="1.6 0.7"/>
<path d="M913.9,764.6 V774.6" fill="none" stroke="#707070" stroke-width="2.6" stroke-linecap="butt" stroke-linejoin="round"/>
<path d="M913.9,764.6 V774.6" fill="none" stroke="#e0e0e0" stroke-width="1.0" stroke-linecap="butt" stroke-linejoin="round" stroke-dasharray="1.6 0.7"/>
<path d="M902.9,769.4 L905.9,764.6 H921.9 L924.9,769.4" fill="none" stroke="#707070" stroke-width="2.4" stroke-linecap="round" stroke-linejoin="round"/>
<path d="M902.9,769.4 L905.9,764.6 H921.9 L924.9,769.4" fill="none" stroke="#e0e0e0" stroke-width="0.9" stroke-linecap="round" stroke-linejoin="round" stroke-dasharray="1.6 0.7"/>
<path d="M907.6,774.5 H911.4" fill="none" stroke="#707070" stroke-width="2.2" stroke-linecap="round" stroke-linejoin="round"/>
<path d="M907.6,774.5 H911.4" fill="none" stroke="#e0e0e0" stroke-width="0.8" stroke-linecap="round" stroke-linejoin="round" stroke-dasharray="1.6 0.7"/>
<circle cx="908.9" cy="769.9" r="3.4" fill="#4a4a4a" stroke="#222" stroke-width="0.8"/>
<path d="M905.3,772.6 C902.3,778.6 899.5,789.6 903.7,798.8" fill="none" stroke="#262626" stroke-width="1.45" stroke-linecap="round"/>
<path d="M920.1,774.5 H916.4" fill="none" stroke="#707070" stroke-width="2.2" stroke-linecap="round" stroke-linejoin="round"/>
<path d="M920.1,774.5 H916.4" fill="none" stroke="#e0e0e0" stroke-width="0.8" stroke-linecap="round" stroke-linejoin="round" stroke-dasharray="1.6 0.7"/>
<circle cx="918.8" cy="769.9" r="3.4" fill="#4a4a4a" stroke="#222" stroke-width="0.8"/>
<path d="M922.4,772.6 C925.4,778.6 928.2,789.6 924.0,798.8" fill="none" stroke="#262626" stroke-width="1.45" stroke-linecap="round"/>
<path d="M968.2,734.3 H961.8" fill="none" stroke="#707070" stroke-width="2.6" stroke-linecap="butt" stroke-linejoin="round"/>
<path d="M968.2,734.3 H961.8" fill="none" stroke="#e0e0e0" stroke-width="1.15" stroke-linecap="butt" stroke-linejoin="round" stroke-dasharray="1.6 0.7"/>
<path d="M969.4,734.3 V812.6" fill="none" stroke="#707070" stroke-width="2.6" stroke-linecap="butt" stroke-linejoin="round"/>
<path d="M969.4,734.3 V812.6" fill="none" stroke="#e0e0e0" stroke-width="1.15" stroke-linecap="butt" stroke-linejoin="round" stroke-dasharray="1.6 0.7"/>
<path d="M969.4,759.9 H961.4" fill="none" stroke="#707070" stroke-width="2.6" stroke-linecap="butt" stroke-linejoin="round"/>
<path d="M969.4,759.9 H961.4" fill="none" stroke="#e0e0e0" stroke-width="1.15" stroke-linecap="butt" stroke-linejoin="round" stroke-dasharray="1.6 0.7"/>
<path d="M990.2,812.6 H955.4" fill="none" stroke="#707070" stroke-width="2.8" stroke-linecap="butt" stroke-linejoin="round"/>
<path d="M990.2,812.6 H955.4" fill="none" stroke="#e0e0e0" stroke-width="1.0" stroke-linecap="butt" stroke-linejoin="round" stroke-dasharray="1.6 0.7"/>
<path d="M969.4,762.0 H975.0 V766.1" fill="none" stroke="#707070" stroke-width="2.2" stroke-linecap="round" stroke-linejoin="round"/>
<path d="M969.4,762.0 H975.0 V766.1" fill="none" stroke="#e0e0e0" stroke-width="0.8" stroke-linecap="round" stroke-linejoin="round" stroke-dasharray="1.6 0.7"/>
<path d="M974.8,783.9 V788.2 L969.4,788.5" fill="none" stroke="#707070" stroke-width="2.2" stroke-linecap="round" stroke-linejoin="round"/>
<path d="M974.8,783.9 V788.2 L969.4,788.5" fill="none" stroke="#e0e0e0" stroke-width="0.8" stroke-linecap="round" stroke-linejoin="round" stroke-dasharray="1.6 0.7"/>
<path d="M969.4,764.6 H961.4 L958.4,769.4" fill="none" stroke="#707070" stroke-width="2.4" stroke-linecap="round" stroke-linejoin="round"/>
<path d="M969.4,764.6 H961.4 L958.4,769.4" fill="none" stroke="#e0e0e0" stroke-width="0.9" stroke-linecap="round" stroke-linejoin="round" stroke-dasharray="1.6 0.7"/>
<path d="M967.9,774.8 Q964.4,773.4 963.8,775.6" fill="none" stroke="#707070" stroke-width="1.8" stroke-linecap="round" stroke-linejoin="round"/>
<path d="M967.9,774.8 Q964.4,773.4 963.8,775.6" fill="none" stroke="#e0e0e0" stroke-width="0.7" stroke-linecap="round" stroke-linejoin="round" stroke-dasharray="1.6 0.7"/>
<path d="M967.9,779.8 Q964.4,778.0 963.8,780.2" fill="none" stroke="#707070" stroke-width="1.8" stroke-linecap="round" stroke-linejoin="round"/>
<path d="M967.9,779.8 Q964.4,778.0 963.8,780.2" fill="none" stroke="#e0e0e0" stroke-width="0.7" stroke-linecap="round" stroke-linejoin="round" stroke-dasharray="1.6 0.7"/>
<circle cx="964.8" cy="769.9" r="3.4" fill="#4a4a4a" stroke="#222" stroke-width="0.8"/>
<path d="M961.1,772.6 C958.1,778.6 955.4,789.6 959.5,798.8" fill="none" stroke="#262626" stroke-width="1.45" stroke-linecap="round"/>
</g>
<g>
<rect x="557.0" y="895.2" width="169.8" height="3.7" fill="#d4d4d4" stroke="#707070" stroke-width="0.8" />
<rect x="557.0" y="904.1" width="169.8" height="3.7" fill="#d4d4d4" stroke="#707070" stroke-width="0.8" />
<line x1="558.0" y1="897.1" x2="725.8" y2="897.1" stroke="#9a9a9a" stroke-width="1.4" stroke-dasharray="1.2 1.2"/>
<line x1="558.0" y1="906.0" x2="725.8" y2="906.0" stroke="#9a9a9a" stroke-width="1.4" stroke-dasharray="1.2 1.2"/>
<rect x="556.0" y="895.0" width="16.3" height="13" rx="2.2" fill="#858585" stroke="#505050" stroke-width="0.7"/>
<rect x="557.5" y="899.0" width="14.8" height="5" fill="#b4b4b4" stroke="#666" stroke-width="0.5"/>
<rect x="711.5" y="895.0" width="16.3" height="13" rx="2.2" fill="#858585" stroke="#505050" stroke-width="0.7"/>
<rect x="711.5" y="899.0" width="14.8" height="5" fill="#b4b4b4" stroke="#666" stroke-width="0.5"/>
<line x1="559.9" y1="916.9" x2="723.9" y2="916.9" stroke="#585858" stroke-width="3.1"/>
<path d="M559.8,888.7 H566.3" fill="none" stroke="#707070" stroke-width="2.6" stroke-linecap="butt" stroke-linejoin="round"/>
<path d="M559.8,888.7 H566.3" fill="none" stroke="#e0e0e0" stroke-width="1.15" stroke-linecap="butt" stroke-linejoin="round" stroke-dasharray="1.6 0.7"/>
<path d="M558.7,888.7 V967.1" fill="none" stroke="#707070" stroke-width="2.6" stroke-linecap="butt" stroke-linejoin="round"/>
<path d="M558.7,888.7 V967.1" fill="none" stroke="#e0e0e0" stroke-width="1.15" stroke-linecap="butt" stroke-linejoin="round" stroke-dasharray="1.6 0.7"/>
<path d="M558.7,914.3 H566.7" fill="none" stroke="#707070" stroke-width="2.6" stroke-linecap="butt" stroke-linejoin="round"/>
<path d="M558.7,914.3 H566.7" fill="none" stroke="#e0e0e0" stroke-width="1.15" stroke-linecap="butt" stroke-linejoin="round" stroke-dasharray="1.6 0.7"/>
<path d="M537.8,967.1 H572.7" fill="none" stroke="#707070" stroke-width="2.8" stroke-linecap="butt" stroke-linejoin="round"/>
<path d="M537.8,967.1 H572.7" fill="none" stroke="#e0e0e0" stroke-width="1.0" stroke-linecap="butt" stroke-linejoin="round" stroke-dasharray="1.6 0.7"/>
<path d="M558.7,916.4 H553.1 V920.5" fill="none" stroke="#707070" stroke-width="2.2" stroke-linecap="round" stroke-linejoin="round"/>
<path d="M558.7,916.4 H553.1 V920.5" fill="none" stroke="#e0e0e0" stroke-width="0.8" stroke-linecap="round" stroke-linejoin="round" stroke-dasharray="1.6 0.7"/>
<path d="M553.3,938.3 V942.6 L558.7,942.9" fill="none" stroke="#707070" stroke-width="2.2" stroke-linecap="round" stroke-linejoin="round"/>
<path d="M553.3,938.3 V942.6 L558.7,942.9" fill="none" stroke="#e0e0e0" stroke-width="0.8" stroke-linecap="round" stroke-linejoin="round" stroke-dasharray="1.6 0.7"/>
<path d="M558.7,918.9 H565.2 Q569.7,919.2 569.3,924.4" fill="none" stroke="#707070" stroke-width="3.0" stroke-linecap="round" stroke-linejoin="round"/>
<path d="M558.7,918.9 H565.2 Q569.7,919.2 569.3,924.4" fill="none" stroke="#e0e0e0" stroke-width="1.3" stroke-linecap="round" stroke-linejoin="round" stroke-dasharray="1.6 0.7"/>
<path d="M559.7,929.0 H564.1 V933.9 H559.7" fill="none" stroke="#707070" stroke-width="2.2" stroke-linecap="round" stroke-linejoin="round"/>
<path d="M559.7,929.0 H564.1 V933.9 H559.7" fill="none" stroke="#e0e0e0" stroke-width="0.8" stroke-linecap="round" stroke-linejoin="round" stroke-dasharray="1.6 0.7"/>
<path d="M606.9,888.7 H621.5" fill="none" stroke="#707070" stroke-width="2.6" stroke-linecap="butt" stroke-linejoin="round"/>
<path d="M606.9,888.7 H621.5" fill="none" stroke="#e0e0e0" stroke-width="1.15" stroke-linecap="butt" stroke-linejoin="round" stroke-dasharray="1.6 0.7"/>
<path d="M614.2,889.7 V895.2" fill="none" stroke="#707070" stroke-width="2.6" stroke-linecap="butt" stroke-linejoin="round"/>
<path d="M614.2,889.7 V895.2" fill="none" stroke="#e0e0e0" stroke-width="1.15" stroke-linecap="butt" stroke-linejoin="round" stroke-dasharray="1.6 0.7"/>
<path d="M614.2,907.7 V919.0" fill="none" stroke="#707070" stroke-width="2.6" stroke-linecap="butt" stroke-linejoin="round"/>
<path d="M614.2,907.7 V919.0" fill="none" stroke="#e0e0e0" stroke-width="1.15" stroke-linecap="butt" stroke-linejoin="round" stroke-dasharray="1.6 0.7"/>
<path d="M606.4,914.3 H622.0" fill="none" stroke="#707070" stroke-width="2.6" stroke-linecap="butt" stroke-linejoin="round"/>
<path d="M606.4,914.3 H622.0" fill="none" stroke="#e0e0e0" stroke-width="1.15" stroke-linecap="butt" stroke-linejoin="round" stroke-dasharray="1.6 0.7"/>
<path d="M614.2,928.0 V967.1" fill="none" stroke="#707070" stroke-width="2.6" stroke-linecap="butt" stroke-linejoin="round"/>
<path d="M614.2,928.0 V967.1" fill="none" stroke="#e0e0e0" stroke-width="1.15" stroke-linecap="butt" stroke-linejoin="round" stroke-dasharray="1.6 0.7"/>
<path d="M600.6,967.1 H627.8" fill="none" stroke="#707070" stroke-width="2.8" stroke-linecap="butt" stroke-linejoin="round"/>
<path d="M600.6,967.1 H627.8" fill="none" stroke="#e0e0e0" stroke-width="1.0" stroke-linecap="butt" stroke-linejoin="round" stroke-dasharray="1.6 0.7"/>
<path d="M603.6,924.6 Q603.0,918.9 607.2,918.9 H621.2 Q625.4,918.9 624.8,924.6" fill="none" stroke="#707070" stroke-width="3.0" stroke-linecap="round" stroke-linejoin="round"/>
<path d="M603.6,924.6 Q603.0,918.9 607.2,918.9 H621.2 Q625.4,918.9 624.8,924.6" fill="none" stroke="#e0e0e0" stroke-width="1.3" stroke-linecap="round" stroke-linejoin="round" stroke-dasharray="1.6 0.7"/>
<path d="M614.2,919.0 V928.0" fill="none" stroke="#707070" stroke-width="3.6" stroke-linecap="butt" stroke-linejoin="round"/>
<path d="M614.2,919.0 V928.0" fill="none" stroke="#e0e0e0" stroke-width="2.0" stroke-linecap="butt" stroke-linejoin="round" stroke-dasharray="1.6 0.7"/>
<path d="M608.6,928.7 Q612.0,929.6 614.2,926.6 Q616.4,929.6 619.8,928.7" fill="none" stroke="#707070" stroke-width="3.0" stroke-linecap="round" stroke-linejoin="round"/>
<path d="M608.6,928.7 Q612.0,929.6 614.2,926.6 Q616.4,929.6 619.8,928.7" fill="none" stroke="#e0e0e0" stroke-width="1.3" stroke-linecap="round" stroke-linejoin="round" stroke-dasharray="1.6 0.7"/>
<path d="M662.2,888.7 H676.8" fill="none" stroke="#707070" stroke-width="2.6" stroke-linecap="butt" stroke-linejoin="round"/>
<path d="M662.2,888.7 H676.8" fill="none" stroke="#e0e0e0" stroke-width="1.15" stroke-linecap="butt" stroke-linejoin="round" stroke-dasharray="1.6 0.7"/>
<path d="M669.5,889.7 V895.2" fill="none" stroke="#707070" stroke-width="2.6" stroke-linecap="butt" stroke-linejoin="round"/>
<path d="M669.5,889.7 V895.2" fill="none" stroke="#e0e0e0" stroke-width="1.15" stroke-linecap="butt" stroke-linejoin="round" stroke-dasharray="1.6 0.7"/>
<path d="M669.5,907.7 V919.0" fill="none" stroke="#707070" stroke-width="2.6" stroke-linecap="butt" stroke-linejoin="round"/>
<path d="M669.5,907.7 V919.0" fill="none" stroke="#e0e0e0" stroke-width="1.15" stroke-linecap="butt" stroke-linejoin="round" stroke-dasharray="1.6 0.7"/>
<path d="M661.7,914.3 H677.3" fill="none" stroke="#707070" stroke-width="2.6" stroke-linecap="butt" stroke-linejoin="round"/>
<path d="M661.7,914.3 H677.3" fill="none" stroke="#e0e0e0" stroke-width="1.15" stroke-linecap="butt" stroke-linejoin="round" stroke-dasharray="1.6 0.7"/>
<path d="M669.5,928.0 V967.1" fill="none" stroke="#707070" stroke-width="2.6" stroke-linecap="butt" stroke-linejoin="round"/>
<path d="M669.5,928.0 V967.1" fill="none" stroke="#e0e0e0" stroke-width="1.15" stroke-linecap="butt" stroke-linejoin="round" stroke-dasharray="1.6 0.7"/>
<path d="M655.9,967.1 H683.1" fill="none" stroke="#707070" stroke-width="2.8" stroke-linecap="butt" stroke-linejoin="round"/>
<path d="M655.9,967.1 H683.1" fill="none" stroke="#e0e0e0" stroke-width="1.0" stroke-linecap="butt" stroke-linejoin="round" stroke-dasharray="1.6 0.7"/>
<path d="M658.9,924.6 Q658.3,918.9 662.5,918.9 H676.5 Q680.7,918.9 680.1,924.6" fill="none" stroke="#707070" stroke-width="3.0" stroke-linecap="round" stroke-linejoin="round"/>
<path d="M658.9,924.6 Q658.3,918.9 662.5,918.9 H676.5 Q680.7,918.9 680.1,924.6" fill="none" stroke="#e0e0e0" stroke-width="1.3" stroke-linecap="round" stroke-linejoin="round" stroke-dasharray="1.6 0.7"/>
<path d="M669.5,919.0 V928.0" fill="none" stroke="#707070" stroke-width="3.6" stroke-linecap="butt" stroke-linejoin="round"/>
<path d="M669.5,919.0 V928.0" fill="none" stroke="#e0e0e0" stroke-width="2.0" stroke-linecap="butt" stroke-linejoin="round" stroke-dasharray="1.6 0.7"/>
<path d="M663.9,928.7 Q667.3,929.6 669.5,926.6 Q671.7,929.6 675.1,928.7" fill="none" stroke="#707070" stroke-width="3.0" stroke-linecap="round" stroke-linejoin="round"/>
<path d="M663.9,928.7 Q667.3,929.6 669.5,926.6 Q671.7,929.6 675.1,928.7" fill="none" stroke="#e0e0e0" stroke-width="1.3" stroke-linecap="round" stroke-linejoin="round" stroke-dasharray="1.6 0.7"/>
<path d="M723.9,888.7 H717.4" fill="none" stroke="#707070" stroke-width="2.6" stroke-linecap="butt" stroke-linejoin="round"/>
<path d="M723.9,888.7 H717.4" fill="none" stroke="#e0e0e0" stroke-width="1.15" stroke-linecap="butt" stroke-linejoin="round" stroke-dasharray="1.6 0.7"/>
<path d="M725.0,888.7 V967.1" fill="none" stroke="#707070" stroke-width="2.6" stroke-linecap="butt" stroke-linejoin="round"/>
<path d="M725.0,888.7 V967.1" fill="none" stroke="#e0e0e0" stroke-width="1.15" stroke-linecap="butt" stroke-linejoin="round" stroke-dasharray="1.6 0.7"/>
<path d="M725.0,914.3 H717.0" fill="none" stroke="#707070" stroke-width="2.6" stroke-linecap="butt" stroke-linejoin="round"/>
<path d="M725.0,914.3 H717.0" fill="none" stroke="#e0e0e0" stroke-width="1.15" stroke-linecap="butt" stroke-linejoin="round" stroke-dasharray="1.6 0.7"/>
<path d="M745.9,967.1 H711.0" fill="none" stroke="#707070" stroke-width="2.8" stroke-linecap="butt" stroke-linejoin="round"/>
<path d="M745.9,967.1 H711.0" fill="none" stroke="#e0e0e0" stroke-width="1.0" stroke-linecap="butt" stroke-linejoin="round" stroke-dasharray="1.6 0.7"/>
<path d="M725.0,916.4 H730.6 V920.5" fill="none" stroke="#707070" stroke-width="2.2" stroke-linecap="round" stroke-linejoin="round"/>
<path d="M725.0,916.4 H730.6 V920.5" fill="none" stroke="#e0e0e0" stroke-width="0.8" stroke-linecap="round" stroke-linejoin="round" stroke-dasharray="1.6 0.7"/>
<path d="M730.4,938.3 V942.6 L725.0,942.9" fill="none" stroke="#707070" stroke-width="2.2" stroke-linecap="round" stroke-linejoin="round"/>
<path d="M730.4,938.3 V942.6 L725.0,942.9" fill="none" stroke="#e0e0e0" stroke-width="0.8" stroke-linecap="round" stroke-linejoin="round" stroke-dasharray="1.6 0.7"/>
<path d="M725.0,918.9 H718.5 Q714.0,919.2 714.4,924.4" fill="none" stroke="#707070" stroke-width="3.0" stroke-linecap="round" stroke-linejoin="round"/>
<path d="M725.0,918.9 H718.5 Q714.0,919.2 714.4,924.4" fill="none" stroke="#e0e0e0" stroke-width="1.3" stroke-linecap="round" stroke-linejoin="round" stroke-dasharray="1.6 0.7"/>
<path d="M724.0,929.0 H719.6 V933.9 H724.0" fill="none" stroke="#707070" stroke-width="2.2" stroke-linecap="round" stroke-linejoin="round"/>
<path d="M724.0,929.0 H719.6 V933.9 H724.0" fill="none" stroke="#e0e0e0" stroke-width="0.8" stroke-linecap="round" stroke-linejoin="round" stroke-dasharray="1.6 0.7"/>
</g>
<g>
<rect x="803.6" y="893.4" width="169.8" height="3.7" fill="#d4d4d4" stroke="#707070" stroke-width="0.8" />
<rect x="803.6" y="902.3" width="169.8" height="3.7" fill="#d4d4d4" stroke="#707070" stroke-width="0.8" />
<line x1="804.6" y1="895.2" x2="972.4" y2="895.2" stroke="#9a9a9a" stroke-width="1.4" stroke-dasharray="1.2 1.2"/>
<line x1="804.6" y1="904.1" x2="972.4" y2="904.1" stroke="#9a9a9a" stroke-width="1.4" stroke-dasharray="1.2 1.2"/>
<rect x="802.6" y="893.2" width="16.3" height="13" rx="2.2" fill="#858585" stroke="#505050" stroke-width="0.7"/>
<rect x="804.1" y="897.2" width="14.8" height="5" fill="#b4b4b4" stroke="#666" stroke-width="0.5"/>
<rect x="958.1" y="893.2" width="16.3" height="13" rx="2.2" fill="#858585" stroke="#505050" stroke-width="0.7"/>
<rect x="958.1" y="897.2" width="14.8" height="5" fill="#b4b4b4" stroke="#666" stroke-width="0.5"/>
<line x1="806.5" y1="915.1" x2="970.5" y2="915.1" stroke="#585858" stroke-width="3.1"/>
<path d="M806.5,886.9 H813.0" fill="none" stroke="#707070" stroke-width="2.6" stroke-linecap="butt" stroke-linejoin="round"/>
<path d="M806.5,886.9 H813.0" fill="none" stroke="#e0e0e0" stroke-width="1.15" stroke-linecap="butt" stroke-linejoin="round" stroke-dasharray="1.6 0.7"/>
<path d="M805.4,886.9 V965.2" fill="none" stroke="#707070" stroke-width="2.6" stroke-linecap="butt" stroke-linejoin="round"/>
<path d="M805.4,886.9 V965.2" fill="none" stroke="#e0e0e0" stroke-width="1.15" stroke-linecap="butt" stroke-linejoin="round" stroke-dasharray="1.6 0.7"/>
<path d="M805.4,912.5 H813.4" fill="none" stroke="#707070" stroke-width="2.6" stroke-linecap="butt" stroke-linejoin="round"/>
<path d="M805.4,912.5 H813.4" fill="none" stroke="#e0e0e0" stroke-width="1.15" stroke-linecap="butt" stroke-linejoin="round" stroke-dasharray="1.6 0.7"/>
<path d="M784.5,965.2 H819.4" fill="none" stroke="#707070" stroke-width="2.8" stroke-linecap="butt" stroke-linejoin="round"/>
<path d="M784.5,965.2 H819.4" fill="none" stroke="#e0e0e0" stroke-width="1.0" stroke-linecap="butt" stroke-linejoin="round" stroke-dasharray="1.6 0.7"/>
<path d="M805.4,914.6 H799.8 V918.7" fill="none" stroke="#707070" stroke-width="2.2" stroke-linecap="round" stroke-linejoin="round"/>
<path d="M805.4,914.6 H799.8 V918.7" fill="none" stroke="#e0e0e0" stroke-width="0.8" stroke-linecap="round" stroke-linejoin="round" stroke-dasharray="1.6 0.7"/>
<path d="M800.0,936.5 V940.8 L805.4,941.1" fill="none" stroke="#707070" stroke-width="2.2" stroke-linecap="round" stroke-linejoin="round"/>
<path d="M800.0,936.5 V940.8 L805.4,941.1" fill="none" stroke="#e0e0e0" stroke-width="0.8" stroke-linecap="round" stroke-linejoin="round" stroke-dasharray="1.6 0.7"/>
<path d="M805.4,917.2 H813.4 L816.4,922.0" fill="none" stroke="#707070" stroke-width="2.4" stroke-linecap="round" stroke-linejoin="round"/>
<path d="M805.4,917.2 H813.4 L816.4,922.0" fill="none" stroke="#e0e0e0" stroke-width="0.9" stroke-linecap="round" stroke-linejoin="round" stroke-dasharray="1.6 0.7"/>
<path d="M806.9,927.4 Q810.4,926.0 811.0,928.2" fill="none" stroke="#707070" stroke-width="1.8" stroke-linecap="round" stroke-linejoin="round"/>
<path d="M806.9,927.4 Q810.4,926.0 811.0,928.2" fill="none" stroke="#e0e0e0" stroke-width="0.7" stroke-linecap="round" stroke-linejoin="round" stroke-dasharray="1.6 0.7"/>
<path d="M806.9,932.4 Q810.4,930.6 811.0,932.8" fill="none" stroke="#707070" stroke-width="1.8" stroke-linecap="round" stroke-linejoin="round"/>
<path d="M806.9,932.4 Q810.4,930.6 811.0,932.8" fill="none" stroke="#e0e0e0" stroke-width="0.7" stroke-linecap="round" stroke-linejoin="round" stroke-dasharray="1.6 0.7"/>
<circle cx="810.0" cy="922.5" r="3.4" fill="#4a4a4a" stroke="#222" stroke-width="0.8"/>
<path d="M813.6,925.2 C816.6,931.2 819.4,942.2 815.2,951.4" fill="none" stroke="#262626" stroke-width="1.45" stroke-linecap="round"/>
<path d="M853.6,886.9 H868.1" fill="none" stroke="#707070" stroke-width="2.6" stroke-linecap="butt" stroke-linejoin="round"/>
<path d="M853.6,886.9 H868.1" fill="none" stroke="#e0e0e0" stroke-width="1.15" stroke-linecap="butt" stroke-linejoin="round" stroke-dasharray="1.6 0.7"/>
<path d="M860.9,887.9 V893.4" fill="none" stroke="#707070" stroke-width="2.6" stroke-linecap="butt" stroke-linejoin="round"/>
<path d="M860.9,887.9 V893.4" fill="none" stroke="#e0e0e0" stroke-width="1.15" stroke-linecap="butt" stroke-linejoin="round" stroke-dasharray="1.6 0.7"/>
<path d="M860.9,905.9 V917.2" fill="none" stroke="#707070" stroke-width="2.6" stroke-linecap="butt" stroke-linejoin="round"/>
<path d="M860.9,905.9 V917.2" fill="none" stroke="#e0e0e0" stroke-width="1.15" stroke-linecap="butt" stroke-linejoin="round" stroke-dasharray="1.6 0.7"/>
<path d="M853.1,912.5 H868.6" fill="none" stroke="#707070" stroke-width="2.6" stroke-linecap="butt" stroke-linejoin="round"/>
<path d="M853.1,912.5 H868.6" fill="none" stroke="#e0e0e0" stroke-width="1.15" stroke-linecap="butt" stroke-linejoin="round" stroke-dasharray="1.6 0.7"/>
<path d="M860.9,926.2 V965.2" fill="none" stroke="#707070" stroke-width="2.6" stroke-linecap="butt" stroke-linejoin="round"/>
<path d="M860.9,926.2 V965.2" fill="none" stroke="#e0e0e0" stroke-width="1.15" stroke-linecap="butt" stroke-linejoin="round" stroke-dasharray="1.6 0.7"/>
<path d="M847.2,965.2 H874.5" fill="none" stroke="#707070" stroke-width="2.8" stroke-linecap="butt" stroke-linejoin="round"/>
<path d="M847.2,965.2 H874.5" fill="none" stroke="#e0e0e0" stroke-width="1.0" stroke-linecap="butt" stroke-linejoin="round" stroke-dasharray="1.6 0.7"/>
<path d="M860.9,917.2 V927.2" fill="none" stroke="#707070" stroke-width="2.6" stroke-linecap="butt" stroke-linejoin="round"/>
<path d="M860.9,917.2 V927.2" fill="none" stroke="#e0e0e0" stroke-width="1.0" stroke-linecap="butt" stroke-linejoin="round" stroke-dasharray="1.6 0.7"/>
<path d="M849.9,922.0 L852.9,917.2 H868.9 L871.9,922.0" fill="none" stroke="#707070" stroke-width="2.4" stroke-linecap="round" stroke-linejoin="round"/>
<path d="M849.9,922.0 L852.9,917.2 H868.9 L871.9,922.0" fill="none" stroke="#e0e0e0" stroke-width="0.9" stroke-linecap="round" stroke-linejoin="round" stroke-dasharray="1.6 0.7"/>
<path d="M854.6,927.1 H858.4" fill="none" stroke="#707070" stroke-width="2.2" stroke-linecap="round" stroke-linejoin="round"/>
<path d="M854.6,927.1 H858.4" fill="none" stroke="#e0e0e0" stroke-width="0.8" stroke-linecap="round" stroke-linejoin="round" stroke-dasharray="1.6 0.7"/>
<circle cx="855.9" cy="922.5" r="3.4" fill="#4a4a4a" stroke="#222" stroke-width="0.8"/>
<path d="M852.3,925.2 C849.3,931.2 846.5,942.2 850.7,951.4" fill="none" stroke="#262626" stroke-width="1.45" stroke-linecap="round"/>
<path d="M867.1,927.1 H863.4" fill="none" stroke="#707070" stroke-width="2.2" stroke-linecap="round" stroke-linejoin="round"/>
<path d="M867.1,927.1 H863.4" fill="none" stroke="#e0e0e0" stroke-width="0.8" stroke-linecap="round" stroke-linejoin="round" stroke-dasharray="1.6 0.7"/>
<circle cx="865.8" cy="922.5" r="3.4" fill="#4a4a4a" stroke="#222" stroke-width="0.8"/>
<path d="M869.4,925.2 C872.4,931.2 875.2,942.2 871.0,951.4" fill="none" stroke="#262626" stroke-width="1.45" stroke-linecap="round"/>
<path d="M908.9,886.9 H923.4" fill="none" stroke="#707070" stroke-width="2.6" stroke-linecap="butt" stroke-linejoin="round"/>
<path d="M908.9,886.9 H923.4" fill="none" stroke="#e0e0e0" stroke-width="1.15" stroke-linecap="butt" stroke-linejoin="round" stroke-dasharray="1.6 0.7"/>
<path d="M916.1,887.9 V893.4" fill="none" stroke="#707070" stroke-width="2.6" stroke-linecap="butt" stroke-linejoin="round"/>
<path d="M916.1,887.9 V893.4" fill="none" stroke="#e0e0e0" stroke-width="1.15" stroke-linecap="butt" stroke-linejoin="round" stroke-dasharray="1.6 0.7"/>
<path d="M916.1,905.9 V917.2" fill="none" stroke="#707070" stroke-width="2.6" stroke-linecap="butt" stroke-linejoin="round"/>
<path d="M916.1,905.9 V917.2" fill="none" stroke="#e0e0e0" stroke-width="1.15" stroke-linecap="butt" stroke-linejoin="round" stroke-dasharray="1.6 0.7"/>
<path d="M908.4,912.5 H923.9" fill="none" stroke="#707070" stroke-width="2.6" stroke-linecap="butt" stroke-linejoin="round"/>
<path d="M908.4,912.5 H923.9" fill="none" stroke="#e0e0e0" stroke-width="1.15" stroke-linecap="butt" stroke-linejoin="round" stroke-dasharray="1.6 0.7"/>
<path d="M916.1,926.2 V965.2" fill="none" stroke="#707070" stroke-width="2.6" stroke-linecap="butt" stroke-linejoin="round"/>
<path d="M916.1,926.2 V965.2" fill="none" stroke="#e0e0e0" stroke-width="1.15" stroke-linecap="butt" stroke-linejoin="round" stroke-dasharray="1.6 0.7"/>
<path d="M902.5,965.2 H929.8" fill="none" stroke="#707070" stroke-width="2.8" stroke-linecap="butt" stroke-linejoin="round"/>
<path d="M902.5,965.2 H929.8" fill="none" stroke="#e0e0e0" stroke-width="1.0" stroke-linecap="butt" stroke-linejoin="round" stroke-dasharray="1.6 0.7"/>
<path d="M916.1,917.2 V927.2" fill="none" stroke="#707070" stroke-width="2.6" stroke-linecap="butt" stroke-linejoin="round"/>
<path d="M916.1,917.2 V927.2" fill="none" stroke="#e0e0e0" stroke-width="1.0" stroke-linecap="butt" stroke-linejoin="round" stroke-dasharray="1.6 0.7"/>
<path d="M905.1,922.0 L908.1,917.2 H924.1 L927.1,922.0" fill="none" stroke="#707070" stroke-width="2.4" stroke-linecap="round" stroke-linejoin="round"/>
<path d="M905.1,922.0 L908.1,917.2 H924.1 L927.1,922.0" fill="none" stroke="#e0e0e0" stroke-width="0.9" stroke-linecap="round" stroke-linejoin="round" stroke-dasharray="1.6 0.7"/>
<path d="M909.9,927.1 H913.6" fill="none" stroke="#707070" stroke-width="2.2" stroke-linecap="round" stroke-linejoin="round"/>
<path d="M909.9,927.1 H913.6" fill="none" stroke="#e0e0e0" stroke-width="0.8" stroke-linecap="round" stroke-linejoin="round" stroke-dasharray="1.6 0.7"/>
<circle cx="911.2" cy="922.5" r="3.4" fill="#4a4a4a" stroke="#222" stroke-width="0.8"/>
<path d="M907.6,925.2 C904.6,931.2 901.8,942.2 906.0,951.4" fill="none" stroke="#262626" stroke-width="1.45" stroke-linecap="round"/>
<path d="M922.4,927.1 H918.6" fill="none" stroke="#707070" stroke-width="2.2" stroke-linecap="round" stroke-linejoin="round"/>
<path d="M922.4,927.1 H918.6" fill="none" stroke="#e0e0e0" stroke-width="0.8" stroke-linecap="round" stroke-linejoin="round" stroke-dasharray="1.6 0.7"/>
<circle cx="921.1" cy="922.5" r="3.4" fill="#4a4a4a" stroke="#222" stroke-width="0.8"/>
<path d="M924.7,925.2 C927.7,931.2 930.5,942.2 926.3,951.4" fill="none" stroke="#262626" stroke-width="1.45" stroke-linecap="round"/>
<path d="M970.5,886.9 H964.0" fill="none" stroke="#707070" stroke-width="2.6" stroke-linecap="butt" stroke-linejoin="round"/>
<path d="M970.5,886.9 H964.0" fill="none" stroke="#e0e0e0" stroke-width="1.15" stroke-linecap="butt" stroke-linejoin="round" stroke-dasharray="1.6 0.7"/>
<path d="M971.6,886.9 V965.2" fill="none" stroke="#707070" stroke-width="2.6" stroke-linecap="butt" stroke-linejoin="round"/>
<path d="M971.6,886.9 V965.2" fill="none" stroke="#e0e0e0" stroke-width="1.15" stroke-linecap="butt" stroke-linejoin="round" stroke-dasharray="1.6 0.7"/>
<path d="M971.6,912.5 H963.6" fill="none" stroke="#707070" stroke-width="2.6" stroke-linecap="butt" stroke-linejoin="round"/>
<path d="M971.6,912.5 H963.6" fill="none" stroke="#e0e0e0" stroke-width="1.15" stroke-linecap="butt" stroke-linejoin="round" stroke-dasharray="1.6 0.7"/>
<path d="M992.5,965.2 H957.6" fill="none" stroke="#707070" stroke-width="2.8" stroke-linecap="butt" stroke-linejoin="round"/>
<path d="M992.5,965.2 H957.6" fill="none" stroke="#e0e0e0" stroke-width="1.0" stroke-linecap="butt" stroke-linejoin="round" stroke-dasharray="1.6 0.7"/>
<path d="M971.6,914.6 H977.2 V918.7" fill="none" stroke="#707070" stroke-width="2.2" stroke-linecap="round" stroke-linejoin="round"/>
<path d="M971.6,914.6 H977.2 V918.7" fill="none" stroke="#e0e0e0" stroke-width="0.8" stroke-linecap="round" stroke-linejoin="round" stroke-dasharray="1.6 0.7"/>
<path d="M977.0,936.5 V940.8 L971.6,941.1" fill="none" stroke="#707070" stroke-width="2.2" stroke-linecap="round" stroke-linejoin="round"/>
<path d="M977.0,936.5 V940.8 L971.6,941.1" fill="none" stroke="#e0e0e0" stroke-width="0.8" stroke-linecap="round" stroke-linejoin="round" stroke-dasharray="1.6 0.7"/>
<path d="M971.6,917.2 H963.6 L960.6,922.0" fill="none" stroke="#707070" stroke-width="2.4" stroke-linecap="round" stroke-linejoin="round"/>
<path d="M971.6,917.2 H963.6 L960.6,922.0" fill="none" stroke="#e0e0e0" stroke-width="0.9" stroke-linecap="round" stroke-linejoin="round" stroke-dasharray="1.6 0.7"/>
<path d="M970.1,927.4 Q966.6,926.0 966.0,928.2" fill="none" stroke="#707070" stroke-width="1.8" stroke-linecap="round" stroke-linejoin="round"/>
<path d="M970.1,927.4 Q966.6,926.0 966.0,928.2" fill="none" stroke="#e0e0e0" stroke-width="0.7" stroke-linecap="round" stroke-linejoin="round" stroke-dasharray="1.6 0.7"/>
<path d="M970.1,932.4 Q966.6,930.6 966.0,932.8" fill="none" stroke="#707070" stroke-width="1.8" stroke-linecap="round" stroke-linejoin="round"/>
<path d="M970.1,932.4 Q966.6,930.6 966.0,932.8" fill="none" stroke="#e0e0e0" stroke-width="0.7" stroke-linecap="round" stroke-linejoin="round" stroke-dasharray="1.6 0.7"/>
<circle cx="967.0" cy="922.5" r="3.4" fill="#4a4a4a" stroke="#222" stroke-width="0.8"/>
<path d="M963.4,925.2 C960.4,931.2 957.6,942.2 961.8,951.4" fill="none" stroke="#262626" stroke-width="1.45" stroke-linecap="round"/>
</g>
<g>
<rect x="557.0" y="1028.3" width="169.8" height="3.7" fill="#d4d4d4" stroke="#707070" stroke-width="0.8" />
<rect x="557.0" y="1037.2" width="169.8" height="3.7" fill="#d4d4d4" stroke="#707070" stroke-width="0.8" />
<line x1="558.0" y1="1030.1" x2="725.8" y2="1030.1" stroke="#9a9a9a" stroke-width="1.4" stroke-dasharray="1.2 1.2"/>
<line x1="558.0" y1="1039.0" x2="725.8" y2="1039.0" stroke="#9a9a9a" stroke-width="1.4" stroke-dasharray="1.2 1.2"/>
<rect x="556.0" y="1028.1" width="16.3" height="13" rx="2.2" fill="#858585" stroke="#505050" stroke-width="0.7"/>
<rect x="557.5" y="1032.1" width="14.8" height="5" fill="#b4b4b4" stroke="#666" stroke-width="0.5"/>
<rect x="711.5" y="1028.1" width="16.3" height="13" rx="2.2" fill="#858585" stroke="#505050" stroke-width="0.7"/>
<rect x="711.5" y="1032.1" width="14.8" height="5" fill="#b4b4b4" stroke="#666" stroke-width="0.5"/>
<line x1="559.9" y1="1050.7" x2="723.9" y2="1050.7" stroke="#4a4a4a" stroke-width="1.4"/>
<path d="M559.8,1021.8 H566.3" fill="none" stroke="#707070" stroke-width="2.6" stroke-linecap="butt" stroke-linejoin="round"/>
<path d="M559.8,1021.8 H566.3" fill="none" stroke="#e0e0e0" stroke-width="1.15" stroke-linecap="butt" stroke-linejoin="round" stroke-dasharray="1.6 0.7"/>
<path d="M558.7,1021.8 V1100.1" fill="none" stroke="#707070" stroke-width="2.6" stroke-linecap="butt" stroke-linejoin="round"/>
<path d="M558.7,1021.8 V1100.1" fill="none" stroke="#e0e0e0" stroke-width="1.15" stroke-linecap="butt" stroke-linejoin="round" stroke-dasharray="1.6 0.7"/>
<path d="M558.7,1047.4 H566.7" fill="none" stroke="#707070" stroke-width="2.6" stroke-linecap="butt" stroke-linejoin="round"/>
<path d="M558.7,1047.4 H566.7" fill="none" stroke="#e0e0e0" stroke-width="1.15" stroke-linecap="butt" stroke-linejoin="round" stroke-dasharray="1.6 0.7"/>
<path d="M537.8,1100.1 H572.7" fill="none" stroke="#707070" stroke-width="2.8" stroke-linecap="butt" stroke-linejoin="round"/>
<path d="M537.8,1100.1 H572.7" fill="none" stroke="#e0e0e0" stroke-width="1.0" stroke-linecap="butt" stroke-linejoin="round" stroke-dasharray="1.6 0.7"/>
<path d="M558.7,1049.5 H553.1 V1053.6" fill="none" stroke="#707070" stroke-width="2.2" stroke-linecap="round" stroke-linejoin="round"/>
<path d="M558.7,1049.5 H553.1 V1053.6" fill="none" stroke="#e0e0e0" stroke-width="0.8" stroke-linecap="round" stroke-linejoin="round" stroke-dasharray="1.6 0.7"/>
<path d="M553.3,1071.4 V1075.7 L558.7,1076.0" fill="none" stroke="#707070" stroke-width="2.2" stroke-linecap="round" stroke-linejoin="round"/>
<path d="M553.3,1071.4 V1075.7 L558.7,1076.0" fill="none" stroke="#e0e0e0" stroke-width="0.8" stroke-linecap="round" stroke-linejoin="round" stroke-dasharray="1.6 0.7"/>
<path d="M558.7,1052.0 H565.2 Q569.7,1052.3 569.3,1057.5" fill="none" stroke="#707070" stroke-width="3.0" stroke-linecap="round" stroke-linejoin="round"/>
<path d="M558.7,1052.0 H565.2 Q569.7,1052.3 569.3,1057.5" fill="none" stroke="#e0e0e0" stroke-width="1.3" stroke-linecap="round" stroke-linejoin="round" stroke-dasharray="1.6 0.7"/>
<path d="M559.7,1062.1 H564.1 V1067.0 H559.7" fill="none" stroke="#707070" stroke-width="2.2" stroke-linecap="round" stroke-linejoin="round"/>
<path d="M559.7,1062.1 H564.1 V1067.0 H559.7" fill="none" stroke="#e0e0e0" stroke-width="0.8" stroke-linecap="round" stroke-linejoin="round" stroke-dasharray="1.6 0.7"/>
<path d="M606.9,1021.8 H621.5" fill="none" stroke="#707070" stroke-width="2.6" stroke-linecap="butt" stroke-linejoin="round"/>
<path d="M606.9,1021.8 H621.5" fill="none" stroke="#e0e0e0" stroke-width="1.15" stroke-linecap="butt" stroke-linejoin="round" stroke-dasharray="1.6 0.7"/>
<path d="M614.2,1022.8 V1028.3" fill="none" stroke="#707070" stroke-width="2.6" stroke-linecap="butt" stroke-linejoin="round"/>
<path d="M614.2,1022.8 V1028.3" fill="none" stroke="#e0e0e0" stroke-width="1.15" stroke-linecap="butt" stroke-linejoin="round" stroke-dasharray="1.6 0.7"/>
<path d="M614.2,1040.8 V1052.1" fill="none" stroke="#707070" stroke-width="2.6" stroke-linecap="butt" stroke-linejoin="round"/>
<path d="M614.2,1040.8 V1052.1" fill="none" stroke="#e0e0e0" stroke-width="1.15" stroke-linecap="butt" stroke-linejoin="round" stroke-dasharray="1.6 0.7"/>
<path d="M606.4,1047.4 H622.0" fill="none" stroke="#707070" stroke-width="2.6" stroke-linecap="butt" stroke-linejoin="round"/>
<path d="M606.4,1047.4 H622.0" fill="none" stroke="#e0e0e0" stroke-width="1.15" stroke-linecap="butt" stroke-linejoin="round" stroke-dasharray="1.6 0.7"/>
<path d="M614.2,1061.1 V1100.1" fill="none" stroke="#707070" stroke-width="2.6" stroke-linecap="butt" stroke-linejoin="round"/>
<path d="M614.2,1061.1 V1100.1" fill="none" stroke="#e0e0e0" stroke-width="1.15" stroke-linecap="butt" stroke-linejoin="round" stroke-dasharray="1.6 0.7"/>
<path d="M600.6,1100.1 H627.8" fill="none" stroke="#707070" stroke-width="2.8" stroke-linecap="butt" stroke-linejoin="round"/>
<path d="M600.6,1100.1 H627.8" fill="none" stroke="#e0e0e0" stroke-width="1.0" stroke-linecap="butt" stroke-linejoin="round" stroke-dasharray="1.6 0.7"/>
<path d="M603.6,1057.7 Q603.0,1052.0 607.2,1052.0 H621.2 Q625.4,1052.0 624.8,1057.7" fill="none" stroke="#707070" stroke-width="3.0" stroke-linecap="round" stroke-linejoin="round"/>
<path d="M603.6,1057.7 Q603.0,1052.0 607.2,1052.0 H621.2 Q625.4,1052.0 624.8,1057.7" fill="none" stroke="#e0e0e0" stroke-width="1.3" stroke-linecap="round" stroke-linejoin="round" stroke-dasharray="1.6 0.7"/>
<path d="M614.2,1052.1 V1061.1" fill="none" stroke="#707070" stroke-width="3.6" stroke-linecap="butt" stroke-linejoin="round"/>
<path d="M614.2,1052.1 V1061.1" fill="none" stroke="#e0e0e0" stroke-width="2.0" stroke-linecap="butt" stroke-linejoin="round" stroke-dasharray="1.6 0.7"/>
<path d="M608.6,1061.8 Q612.0,1062.7 614.2,1059.7 Q616.4,1062.7 619.8,1061.8" fill="none" stroke="#707070" stroke-width="3.0" stroke-linecap="round" stroke-linejoin="round"/>
<path d="M608.6,1061.8 Q612.0,1062.7 614.2,1059.7 Q616.4,1062.7 619.8,1061.8" fill="none" stroke="#e0e0e0" stroke-width="1.3" stroke-linecap="round" stroke-linejoin="round" stroke-dasharray="1.6 0.7"/>
<path d="M662.2,1021.8 H676.8" fill="none" stroke="#707070" stroke-width="2.6" stroke-linecap="butt" stroke-linejoin="round"/>
<path d="M662.2,1021.8 H676.8" fill="none" stroke="#e0e0e0" stroke-width="1.15" stroke-linecap="butt" stroke-linejoin="round" stroke-dasharray="1.6 0.7"/>
<path d="M669.5,1022.8 V1028.3" fill="none" stroke="#707070" stroke-width="2.6" stroke-linecap="butt" stroke-linejoin="round"/>
<path d="M669.5,1022.8 V1028.3" fill="none" stroke="#e0e0e0" stroke-width="1.15" stroke-linecap="butt" stroke-linejoin="round" stroke-dasharray="1.6 0.7"/>
<path d="M669.5,1040.8 V1052.1" fill="none" stroke="#707070" stroke-width="2.6" stroke-linecap="butt" stroke-linejoin="round"/>
<path d="M669.5,1040.8 V1052.1" fill="none" stroke="#e0e0e0" stroke-width="1.15" stroke-linecap="butt" stroke-linejoin="round" stroke-dasharray="1.6 0.7"/>
<path d="M661.7,1047.4 H677.3" fill="none" stroke="#707070" stroke-width="2.6" stroke-linecap="butt" stroke-linejoin="round"/>
<path d="M661.7,1047.4 H677.3" fill="none" stroke="#e0e0e0" stroke-width="1.15" stroke-linecap="butt" stroke-linejoin="round" stroke-dasharray="1.6 0.7"/>
<path d="M669.5,1061.1 V1100.1" fill="none" stroke="#707070" stroke-width="2.6" stroke-linecap="butt" stroke-linejoin="round"/>
<path d="M669.5,1061.1 V1100.1" fill="none" stroke="#e0e0e0" stroke-width="1.15" stroke-linecap="butt" stroke-linejoin="round" stroke-dasharray="1.6 0.7"/>
<path d="M655.9,1100.1 H683.1" fill="none" stroke="#707070" stroke-width="2.8" stroke-linecap="butt" stroke-linejoin="round"/>
<path d="M655.9,1100.1 H683.1" fill="none" stroke="#e0e0e0" stroke-width="1.0" stroke-linecap="butt" stroke-linejoin="round" stroke-dasharray="1.6 0.7"/>
<path d="M658.9,1057.7 Q658.3,1052.0 662.5,1052.0 H676.5 Q680.7,1052.0 680.1,1057.7" fill="none" stroke="#707070" stroke-width="3.0" stroke-linecap="round" stroke-linejoin="round"/>
<path d="M658.9,1057.7 Q658.3,1052.0 662.5,1052.0 H676.5 Q680.7,1052.0 680.1,1057.7" fill="none" stroke="#e0e0e0" stroke-width="1.3" stroke-linecap="round" stroke-linejoin="round" stroke-dasharray="1.6 0.7"/>
<path d="M669.5,1052.1 V1061.1" fill="none" stroke="#707070" stroke-width="3.6" stroke-linecap="butt" stroke-linejoin="round"/>
<path d="M669.5,1052.1 V1061.1" fill="none" stroke="#e0e0e0" stroke-width="2.0" stroke-linecap="butt" stroke-linejoin="round" stroke-dasharray="1.6 0.7"/>
<path d="M663.9,1061.8 Q667.3,1062.7 669.5,1059.7 Q671.7,1062.7 675.1,1061.8" fill="none" stroke="#707070" stroke-width="3.0" stroke-linecap="round" stroke-linejoin="round"/>
<path d="M663.9,1061.8 Q667.3,1062.7 669.5,1059.7 Q671.7,1062.7 675.1,1061.8" fill="none" stroke="#e0e0e0" stroke-width="1.3" stroke-linecap="round" stroke-linejoin="round" stroke-dasharray="1.6 0.7"/>
<path d="M723.9,1021.8 H717.4" fill="none" stroke="#707070" stroke-width="2.6" stroke-linecap="butt" stroke-linejoin="round"/>
<path d="M723.9,1021.8 H717.4" fill="none" stroke="#e0e0e0" stroke-width="1.15" stroke-linecap="butt" stroke-linejoin="round" stroke-dasharray="1.6 0.7"/>
<path d="M725.0,1021.8 V1100.1" fill="none" stroke="#707070" stroke-width="2.6" stroke-linecap="butt" stroke-linejoin="round"/>
<path d="M725.0,1021.8 V1100.1" fill="none" stroke="#e0e0e0" stroke-width="1.15" stroke-linecap="butt" stroke-linejoin="round" stroke-dasharray="1.6 0.7"/>
<path d="M725.0,1047.4 H717.0" fill="none" stroke="#707070" stroke-width="2.6" stroke-linecap="butt" stroke-linejoin="round"/>
<path d="M725.0,1047.4 H717.0" fill="none" stroke="#e0e0e0" stroke-width="1.15" stroke-linecap="butt" stroke-linejoin="round" stroke-dasharray="1.6 0.7"/>
<path d="M745.9,1100.1 H711.0" fill="none" stroke="#707070" stroke-width="2.8" stroke-linecap="butt" stroke-linejoin="round"/>
<path d="M745.9,1100.1 H711.0" fill="none" stroke="#e0e0e0" stroke-width="1.0" stroke-linecap="butt" stroke-linejoin="round" stroke-dasharray="1.6 0.7"/>
<path d="M725.0,1049.5 H730.6 V1053.6" fill="none" stroke="#707070" stroke-width="2.2" stroke-linecap="round" stroke-linejoin="round"/>
<path d="M725.0,1049.5 H730.6 V1053.6" fill="none" stroke="#e0e0e0" stroke-width="0.8" stroke-linecap="round" stroke-linejoin="round" stroke-dasharray="1.6 0.7"/>
<path d="M730.4,1071.4 V1075.7 L725.0,1076.0" fill="none" stroke="#707070" stroke-width="2.2" stroke-linecap="round" stroke-linejoin="round"/>
<path d="M730.4,1071.4 V1075.7 L725.0,1076.0" fill="none" stroke="#e0e0e0" stroke-width="0.8" stroke-linecap="round" stroke-linejoin="round" stroke-dasharray="1.6 0.7"/>
<path d="M725.0,1052.0 H718.5 Q714.0,1052.3 714.4,1057.5" fill="none" stroke="#707070" stroke-width="3.0" stroke-linecap="round" stroke-linejoin="round"/>
<path d="M725.0,1052.0 H718.5 Q714.0,1052.3 714.4,1057.5" fill="none" stroke="#e0e0e0" stroke-width="1.3" stroke-linecap="round" stroke-linejoin="round" stroke-dasharray="1.6 0.7"/>
<path d="M724.0,1062.1 H719.6 V1067.0 H724.0" fill="none" stroke="#707070" stroke-width="2.2" stroke-linecap="round" stroke-linejoin="round"/>
<path d="M724.0,1062.1 H719.6 V1067.0 H724.0" fill="none" stroke="#e0e0e0" stroke-width="0.8" stroke-linecap="round" stroke-linejoin="round" stroke-dasharray="1.6 0.7"/>
</g>
<g>
<rect x="803.4" y="1026.6" width="169.8" height="3.7" fill="#d4d4d4" stroke="#707070" stroke-width="0.8" />
<rect x="803.4" y="1035.5" width="169.8" height="3.7" fill="#d4d4d4" stroke="#707070" stroke-width="0.8" />
<line x1="804.4" y1="1028.5" x2="972.2" y2="1028.5" stroke="#9a9a9a" stroke-width="1.4" stroke-dasharray="1.2 1.2"/>
<line x1="804.4" y1="1037.3" x2="972.2" y2="1037.3" stroke="#9a9a9a" stroke-width="1.4" stroke-dasharray="1.2 1.2"/>
<rect x="802.4" y="1026.4" width="16.3" height="13" rx="2.2" fill="#858585" stroke="#505050" stroke-width="0.7"/>
<rect x="803.9" y="1030.4" width="14.8" height="5" fill="#b4b4b4" stroke="#666" stroke-width="0.5"/>
<rect x="957.9" y="1026.4" width="16.3" height="13" rx="2.2" fill="#858585" stroke="#505050" stroke-width="0.7"/>
<rect x="957.9" y="1030.4" width="14.8" height="5" fill="#b4b4b4" stroke="#666" stroke-width="0.5"/>
<line x1="806.3" y1="1049.0" x2="970.3" y2="1049.0" stroke="#4a4a4a" stroke-width="1.4"/>
<path d="M806.2,1020.1 H812.8" fill="none" stroke="#707070" stroke-width="2.6" stroke-linecap="butt" stroke-linejoin="round"/>
<path d="M806.2,1020.1 H812.8" fill="none" stroke="#e0e0e0" stroke-width="1.15" stroke-linecap="butt" stroke-linejoin="round" stroke-dasharray="1.6 0.7"/>
<path d="M805.1,1020.1 V1098.5" fill="none" stroke="#707070" stroke-width="2.6" stroke-linecap="butt" stroke-linejoin="round"/>
<path d="M805.1,1020.1 V1098.5" fill="none" stroke="#e0e0e0" stroke-width="1.15" stroke-linecap="butt" stroke-linejoin="round" stroke-dasharray="1.6 0.7"/>
<path d="M805.1,1045.7 H813.1" fill="none" stroke="#707070" stroke-width="2.6" stroke-linecap="butt" stroke-linejoin="round"/>
<path d="M805.1,1045.7 H813.1" fill="none" stroke="#e0e0e0" stroke-width="1.15" stroke-linecap="butt" stroke-linejoin="round" stroke-dasharray="1.6 0.7"/>
<path d="M784.2,1098.5 H819.1" fill="none" stroke="#707070" stroke-width="2.8" stroke-linecap="butt" stroke-linejoin="round"/>
<path d="M784.2,1098.5 H819.1" fill="none" stroke="#e0e0e0" stroke-width="1.0" stroke-linecap="butt" stroke-linejoin="round" stroke-dasharray="1.6 0.7"/>
<path d="M805.1,1047.8 H799.5 V1051.9" fill="none" stroke="#707070" stroke-width="2.2" stroke-linecap="round" stroke-linejoin="round"/>
<path d="M805.1,1047.8 H799.5 V1051.9" fill="none" stroke="#e0e0e0" stroke-width="0.8" stroke-linecap="round" stroke-linejoin="round" stroke-dasharray="1.6 0.7"/>
<path d="M799.8,1069.7 V1074.0 L805.1,1074.3" fill="none" stroke="#707070" stroke-width="2.2" stroke-linecap="round" stroke-linejoin="round"/>
<path d="M799.8,1069.7 V1074.0 L805.1,1074.3" fill="none" stroke="#e0e0e0" stroke-width="0.8" stroke-linecap="round" stroke-linejoin="round" stroke-dasharray="1.6 0.7"/>
<path d="M805.1,1050.4 H813.1 L816.1,1055.2" fill="none" stroke="#707070" stroke-width="2.4" stroke-linecap="round" stroke-linejoin="round"/>
<path d="M805.1,1050.4 H813.1 L816.1,1055.2" fill="none" stroke="#e0e0e0" stroke-width="0.9" stroke-linecap="round" stroke-linejoin="round" stroke-dasharray="1.6 0.7"/>
<path d="M806.6,1060.6 Q810.1,1059.2 810.8,1061.4" fill="none" stroke="#707070" stroke-width="1.8" stroke-linecap="round" stroke-linejoin="round"/>
<path d="M806.6,1060.6 Q810.1,1059.2 810.8,1061.4" fill="none" stroke="#e0e0e0" stroke-width="0.7" stroke-linecap="round" stroke-linejoin="round" stroke-dasharray="1.6 0.7"/>
<path d="M806.6,1065.6 Q810.1,1063.8 810.8,1066.0" fill="none" stroke="#707070" stroke-width="1.8" stroke-linecap="round" stroke-linejoin="round"/>
<path d="M806.6,1065.6 Q810.1,1063.8 810.8,1066.0" fill="none" stroke="#e0e0e0" stroke-width="0.7" stroke-linecap="round" stroke-linejoin="round" stroke-dasharray="1.6 0.7"/>
<circle cx="809.8" cy="1055.7" r="3.4" fill="#4a4a4a" stroke="#222" stroke-width="0.8"/>
<path d="M813.4,1058.4 C816.4,1064.4 819.1,1075.4 815.0,1084.6" fill="none" stroke="#262626" stroke-width="1.45" stroke-linecap="round"/>
<path d="M853.4,1020.1 H867.9" fill="none" stroke="#707070" stroke-width="2.6" stroke-linecap="butt" stroke-linejoin="round"/>
<path d="M853.4,1020.1 H867.9" fill="none" stroke="#e0e0e0" stroke-width="1.15" stroke-linecap="butt" stroke-linejoin="round" stroke-dasharray="1.6 0.7"/>
<path d="M860.6,1021.1 V1026.6" fill="none" stroke="#707070" stroke-width="2.6" stroke-linecap="butt" stroke-linejoin="round"/>
<path d="M860.6,1021.1 V1026.6" fill="none" stroke="#e0e0e0" stroke-width="1.15" stroke-linecap="butt" stroke-linejoin="round" stroke-dasharray="1.6 0.7"/>
<path d="M860.6,1039.1 V1050.4" fill="none" stroke="#707070" stroke-width="2.6" stroke-linecap="butt" stroke-linejoin="round"/>
<path d="M860.6,1039.1 V1050.4" fill="none" stroke="#e0e0e0" stroke-width="1.15" stroke-linecap="butt" stroke-linejoin="round" stroke-dasharray="1.6 0.7"/>
<path d="M852.9,1045.7 H868.4" fill="none" stroke="#707070" stroke-width="2.6" stroke-linecap="butt" stroke-linejoin="round"/>
<path d="M852.9,1045.7 H868.4" fill="none" stroke="#e0e0e0" stroke-width="1.15" stroke-linecap="butt" stroke-linejoin="round" stroke-dasharray="1.6 0.7"/>
<path d="M860.6,1059.4 V1098.5" fill="none" stroke="#707070" stroke-width="2.6" stroke-linecap="butt" stroke-linejoin="round"/>
<path d="M860.6,1059.4 V1098.5" fill="none" stroke="#e0e0e0" stroke-width="1.15" stroke-linecap="butt" stroke-linejoin="round" stroke-dasharray="1.6 0.7"/>
<path d="M847.0,1098.5 H874.2" fill="none" stroke="#707070" stroke-width="2.8" stroke-linecap="butt" stroke-linejoin="round"/>
<path d="M847.0,1098.5 H874.2" fill="none" stroke="#e0e0e0" stroke-width="1.0" stroke-linecap="butt" stroke-linejoin="round" stroke-dasharray="1.6 0.7"/>
<path d="M860.6,1050.4 V1060.4" fill="none" stroke="#707070" stroke-width="2.6" stroke-linecap="butt" stroke-linejoin="round"/>
<path d="M860.6,1050.4 V1060.4" fill="none" stroke="#e0e0e0" stroke-width="1.0" stroke-linecap="butt" stroke-linejoin="round" stroke-dasharray="1.6 0.7"/>
<path d="M849.6,1055.2 L852.6,1050.4 H868.6 L871.6,1055.2" fill="none" stroke="#707070" stroke-width="2.4" stroke-linecap="round" stroke-linejoin="round"/>
<path d="M849.6,1055.2 L852.6,1050.4 H868.6 L871.6,1055.2" fill="none" stroke="#e0e0e0" stroke-width="0.9" stroke-linecap="round" stroke-linejoin="round" stroke-dasharray="1.6 0.7"/>
<path d="M854.4,1060.3 H858.1" fill="none" stroke="#707070" stroke-width="2.2" stroke-linecap="round" stroke-linejoin="round"/>
<path d="M854.4,1060.3 H858.1" fill="none" stroke="#e0e0e0" stroke-width="0.8" stroke-linecap="round" stroke-linejoin="round" stroke-dasharray="1.6 0.7"/>
<circle cx="855.7" cy="1055.7" r="3.4" fill="#4a4a4a" stroke="#222" stroke-width="0.8"/>
<path d="M852.1,1058.4 C849.1,1064.4 846.3,1075.4 850.5,1084.6" fill="none" stroke="#262626" stroke-width="1.45" stroke-linecap="round"/>
<path d="M866.9,1060.3 H863.1" fill="none" stroke="#707070" stroke-width="2.2" stroke-linecap="round" stroke-linejoin="round"/>
<path d="M866.9,1060.3 H863.1" fill="none" stroke="#e0e0e0" stroke-width="0.8" stroke-linecap="round" stroke-linejoin="round" stroke-dasharray="1.6 0.7"/>
<circle cx="865.6" cy="1055.7" r="3.4" fill="#4a4a4a" stroke="#222" stroke-width="0.8"/>
<path d="M869.2,1058.4 C872.2,1064.4 875.0,1075.4 870.8,1084.6" fill="none" stroke="#262626" stroke-width="1.45" stroke-linecap="round"/>
<path d="M908.6,1020.1 H923.2" fill="none" stroke="#707070" stroke-width="2.6" stroke-linecap="butt" stroke-linejoin="round"/>
<path d="M908.6,1020.1 H923.2" fill="none" stroke="#e0e0e0" stroke-width="1.15" stroke-linecap="butt" stroke-linejoin="round" stroke-dasharray="1.6 0.7"/>
<path d="M915.9,1021.1 V1026.6" fill="none" stroke="#707070" stroke-width="2.6" stroke-linecap="butt" stroke-linejoin="round"/>
<path d="M915.9,1021.1 V1026.6" fill="none" stroke="#e0e0e0" stroke-width="1.15" stroke-linecap="butt" stroke-linejoin="round" stroke-dasharray="1.6 0.7"/>
<path d="M915.9,1039.1 V1050.4" fill="none" stroke="#707070" stroke-width="2.6" stroke-linecap="butt" stroke-linejoin="round"/>
<path d="M915.9,1039.1 V1050.4" fill="none" stroke="#e0e0e0" stroke-width="1.15" stroke-linecap="butt" stroke-linejoin="round" stroke-dasharray="1.6 0.7"/>
<path d="M908.1,1045.7 H923.7" fill="none" stroke="#707070" stroke-width="2.6" stroke-linecap="butt" stroke-linejoin="round"/>
<path d="M908.1,1045.7 H923.7" fill="none" stroke="#e0e0e0" stroke-width="1.15" stroke-linecap="butt" stroke-linejoin="round" stroke-dasharray="1.6 0.7"/>
<path d="M915.9,1059.4 V1098.5" fill="none" stroke="#707070" stroke-width="2.6" stroke-linecap="butt" stroke-linejoin="round"/>
<path d="M915.9,1059.4 V1098.5" fill="none" stroke="#e0e0e0" stroke-width="1.15" stroke-linecap="butt" stroke-linejoin="round" stroke-dasharray="1.6 0.7"/>
<path d="M902.3,1098.5 H929.5" fill="none" stroke="#707070" stroke-width="2.8" stroke-linecap="butt" stroke-linejoin="round"/>
<path d="M902.3,1098.5 H929.5" fill="none" stroke="#e0e0e0" stroke-width="1.0" stroke-linecap="butt" stroke-linejoin="round" stroke-dasharray="1.6 0.7"/>
<path d="M915.9,1050.4 V1060.4" fill="none" stroke="#707070" stroke-width="2.6" stroke-linecap="butt" stroke-linejoin="round"/>
<path d="M915.9,1050.4 V1060.4" fill="none" stroke="#e0e0e0" stroke-width="1.0" stroke-linecap="butt" stroke-linejoin="round" stroke-dasharray="1.6 0.7"/>
<path d="M904.9,1055.2 L907.9,1050.4 H923.9 L926.9,1055.2" fill="none" stroke="#707070" stroke-width="2.4" stroke-linecap="round" stroke-linejoin="round"/>
<path d="M904.9,1055.2 L907.9,1050.4 H923.9 L926.9,1055.2" fill="none" stroke="#e0e0e0" stroke-width="0.9" stroke-linecap="round" stroke-linejoin="round" stroke-dasharray="1.6 0.7"/>
<path d="M909.6,1060.3 H913.4" fill="none" stroke="#707070" stroke-width="2.2" stroke-linecap="round" stroke-linejoin="round"/>
<path d="M909.6,1060.3 H913.4" fill="none" stroke="#e0e0e0" stroke-width="0.8" stroke-linecap="round" stroke-linejoin="round" stroke-dasharray="1.6 0.7"/>
<circle cx="911.0" cy="1055.7" r="3.4" fill="#4a4a4a" stroke="#222" stroke-width="0.8"/>
<path d="M907.4,1058.4 C904.4,1064.4 901.6,1075.4 905.8,1084.6" fill="none" stroke="#262626" stroke-width="1.45" stroke-linecap="round"/>
<path d="M922.2,1060.3 H918.4" fill="none" stroke="#707070" stroke-width="2.2" stroke-linecap="round" stroke-linejoin="round"/>
<path d="M922.2,1060.3 H918.4" fill="none" stroke="#e0e0e0" stroke-width="0.8" stroke-linecap="round" stroke-linejoin="round" stroke-dasharray="1.6 0.7"/>
<circle cx="920.9" cy="1055.7" r="3.4" fill="#4a4a4a" stroke="#222" stroke-width="0.8"/>
<path d="M924.5,1058.4 C927.5,1064.4 930.3,1075.4 926.1,1084.6" fill="none" stroke="#262626" stroke-width="1.45" stroke-linecap="round"/>
<path d="M970.3,1020.1 H963.8" fill="none" stroke="#707070" stroke-width="2.6" stroke-linecap="butt" stroke-linejoin="round"/>
<path d="M970.3,1020.1 H963.8" fill="none" stroke="#e0e0e0" stroke-width="1.15" stroke-linecap="butt" stroke-linejoin="round" stroke-dasharray="1.6 0.7"/>
<path d="M971.4,1020.1 V1098.5" fill="none" stroke="#707070" stroke-width="2.6" stroke-linecap="butt" stroke-linejoin="round"/>
<path d="M971.4,1020.1 V1098.5" fill="none" stroke="#e0e0e0" stroke-width="1.15" stroke-linecap="butt" stroke-linejoin="round" stroke-dasharray="1.6 0.7"/>
<path d="M971.4,1045.7 H963.4" fill="none" stroke="#707070" stroke-width="2.6" stroke-linecap="butt" stroke-linejoin="round"/>
<path d="M971.4,1045.7 H963.4" fill="none" stroke="#e0e0e0" stroke-width="1.15" stroke-linecap="butt" stroke-linejoin="round" stroke-dasharray="1.6 0.7"/>
<path d="M992.3,1098.5 H957.4" fill="none" stroke="#707070" stroke-width="2.8" stroke-linecap="butt" stroke-linejoin="round"/>
<path d="M992.3,1098.5 H957.4" fill="none" stroke="#e0e0e0" stroke-width="1.0" stroke-linecap="butt" stroke-linejoin="round" stroke-dasharray="1.6 0.7"/>
<path d="M971.4,1047.8 H977.0 V1051.9" fill="none" stroke="#707070" stroke-width="2.2" stroke-linecap="round" stroke-linejoin="round"/>
<path d="M971.4,1047.8 H977.0 V1051.9" fill="none" stroke="#e0e0e0" stroke-width="0.8" stroke-linecap="round" stroke-linejoin="round" stroke-dasharray="1.6 0.7"/>
<path d="M976.8,1069.7 V1074.0 L971.4,1074.3" fill="none" stroke="#707070" stroke-width="2.2" stroke-linecap="round" stroke-linejoin="round"/>
<path d="M976.8,1069.7 V1074.0 L971.4,1074.3" fill="none" stroke="#e0e0e0" stroke-width="0.8" stroke-linecap="round" stroke-linejoin="round" stroke-dasharray="1.6 0.7"/>
<path d="M971.4,1050.4 H963.4 L960.4,1055.2" fill="none" stroke="#707070" stroke-width="2.4" stroke-linecap="round" stroke-linejoin="round"/>
<path d="M971.4,1050.4 H963.4 L960.4,1055.2" fill="none" stroke="#e0e0e0" stroke-width="0.9" stroke-linecap="round" stroke-linejoin="round" stroke-dasharray="1.6 0.7"/>
<path d="M969.9,1060.6 Q966.4,1059.2 965.8,1061.4" fill="none" stroke="#707070" stroke-width="1.8" stroke-linecap="round" stroke-linejoin="round"/>
<path d="M969.9,1060.6 Q966.4,1059.2 965.8,1061.4" fill="none" stroke="#e0e0e0" stroke-width="0.7" stroke-linecap="round" stroke-linejoin="round" stroke-dasharray="1.6 0.7"/>
<path d="M969.9,1065.6 Q966.4,1063.8 965.8,1066.0" fill="none" stroke="#707070" stroke-width="1.8" stroke-linecap="round" stroke-linejoin="round"/>
<path d="M969.9,1065.6 Q966.4,1063.8 965.8,1066.0" fill="none" stroke="#e0e0e0" stroke-width="0.7" stroke-linecap="round" stroke-linejoin="round" stroke-dasharray="1.6 0.7"/>
<circle cx="966.8" cy="1055.7" r="3.4" fill="#4a4a4a" stroke="#222" stroke-width="0.8"/>
<path d="M963.2,1058.4 C960.2,1064.4 957.4,1075.4 961.6,1084.6" fill="none" stroke="#262626" stroke-width="1.45" stroke-linecap="round"/>
</g>
<text x="0" y="0" transform="translate(642.2 677.1)" font-size="14.2" text-anchor="middle" fill="#111" font-weight="normal" >АДЛ</text>
<text x="0" y="0" transform="translate(885.2 676.8)" font-size="14.2" text-anchor="middle" fill="#111" font-weight="normal" >АДЛ-З</text>
<text x="0" y="0" transform="translate(643.4 867.7)" font-size="14.2" text-anchor="middle" fill="#111" font-weight="normal" >АДЛ-К</text>
<text x="0" y="0" transform="translate(886.4 868.0)" font-size="14.2" text-anchor="middle" fill="#111" font-weight="normal" >АДЛ-КЗ</text>
<text x="0" y="0" transform="translate(644.0 1001.5)" font-size="14.2" text-anchor="middle" fill="#111" font-weight="normal" >АДЛ-П</text>
<text x="0" y="0" transform="translate(887.0 1001.9)" font-size="14.2" text-anchor="middle" fill="#111" font-weight="normal" >АДЛ-ПЗ</text>
<line x1="551.4" y1="708.0" x2="551.4" y2="759.5" stroke="#7a7a7a" stroke-width="0.6" />
<line x1="730.4" y1="708.0" x2="730.4" y2="760.0" stroke="#7a7a7a" stroke-width="0.6" />
<line x1="551.4" y1="711.7" x2="730.4" y2="711.7" stroke="#7a7a7a" stroke-width="0.8" />
<polygon points="551.4,711.7 561.4,710.1 561.4,713.3" fill="#111"/>
<polygon points="730.4,711.7 720.4,713.3 720.4,710.1" fill="#111"/>
<text x="0" y="0" transform="translate(641.0 708.8)" font-size="13.2" text-anchor="middle" fill="#111" font-weight="normal" >B</text>
<line x1="726.0" y1="732.3" x2="759.0" y2="732.3" stroke="#7a7a7a" stroke-width="0.6" />
<line x1="746.0" y1="812.0" x2="759.0" y2="812.0" stroke="#7a7a7a" stroke-width="0.6" />
<line x1="755.6" y1="732.3" x2="755.6" y2="812.0" stroke="#7a7a7a" stroke-width="0.8" />
<polygon points="755.6,732.3 757.2,742.3 754.0,742.3" fill="#111"/>
<polygon points="755.6,812.0 754.0,802.0 757.2,802.0" fill="#111"/>
<text x="0" y="0" transform="translate(752.2 773.4) rotate(-90) scale(1.07 1)" font-size="13.3" text-anchor="middle" fill="#111" font-weight="normal" >55</text>
<line x1="655.3" y1="813.0" x2="655.3" y2="837.0" stroke="#7a7a7a" stroke-width="0.6" />
<line x1="682.5" y1="813.0" x2="682.5" y2="837.0" stroke="#7a7a7a" stroke-width="0.6" />
<line x1="711.0" y1="813.0" x2="711.0" y2="837.0" stroke="#7a7a7a" stroke-width="0.6" />
<line x1="745.5" y1="813.0" x2="745.5" y2="837.0" stroke="#7a7a7a" stroke-width="0.6" />
<line x1="655.3" y1="833.9" x2="745.5" y2="833.9" stroke="#7a7a7a" stroke-width="0.7" />
<polygon points="655.3,833.9 663.8,832.5 663.8,835.3" fill="#111"/>
<polygon points="682.5,833.9 674.0,835.3 674.0,832.5" fill="#111"/>
<polygon points="682.5,833.9 691.0,832.5 691.0,835.3" fill="#111"/>
<polygon points="711.0,833.9 702.5,835.3 702.5,832.5" fill="#111"/>
<polygon points="711.0,833.9 719.5,832.5 719.5,835.3" fill="#111"/>
<polygon points="745.5,833.9 737.0,835.3 737.0,832.5" fill="#111"/>
<text x="0" y="0" transform="translate(669.0 829.4)" font-size="13.6" text-anchor="middle" fill="#111" font-weight="normal" >18</text>
<text x="0" y="0" transform="translate(696.5 829.4)" font-size="13.6" text-anchor="middle" fill="#111" font-weight="normal" >20</text>
<text x="0" y="0" transform="translate(728.4 829.4)" font-size="13.6" text-anchor="middle" fill="#111" font-weight="normal" >23</text>
</svg>
<table class="tb" id="t1">
<colgroup><col style="width:137px"><col style="width:91px"><col style="width:91px"><col style="width:91px"><col style="width:90px"><col style="width:91px"></colgroup>
<tr>
<th style="background:linear-gradient(100deg,#9c9c9c 0%,#bdbdbd 45%,#e0e0e0 100%)">Количество<br>щелей</th>
<th style="background:linear-gradient(100deg,#b9b9b9 0%,#d4d4d4 50%,#e6e6e6 100%)">B, мм</th>
<th style="background:linear-gradient(100deg,#c4c4c4 0%,#dadada 50%,#e6e6e6 100%)">B1, мм</th>
<th style="background:linear-gradient(100deg,#dedede 0%,#d0d0d0 50%,#bcbcbc 100%)">øD, мм</th>
<th style="background:linear-gradient(100deg,#d6d6d6 0%,#c4c4c4 50%,#aeaeae 100%)">h1, мм</th>
<th style="background:linear-gradient(100deg,#cacaca 0%,#b4b4b4 50%,#989898 100%)">L, мм</th>
</tr>
<tr><td class="f">1</td><td>48</td><td>51</td><td>160</td><td>90</td><td rowspan="6">A-2</td></tr>
<tr><td class="f">2</td><td>86</td><td>89</td><td>200</td><td>128</td></tr>
<tr><td class="f">3</td><td>124</td><td>127</td><td>200</td><td>166</td></tr>
<tr><td class="f">4</td><td>162</td><td>165</td><td>250</td><td>204</td></tr>
<tr><td class="f">5</td><td>200</td><td>203</td><td>250</td><td>242</td></tr>
<tr><td class="f">6</td><td>238</td><td>241</td><td>315</td><td>280</td></tr>
</table>
<table class="tb" id="t2">
<colgroup><col style="width:168px"><col style="width:199px"></colgroup>
<tr>
<th class="b" style="background:linear-gradient(100deg,#999 0%,#bcbcbc 45%,#e2e2e2 100%)">Количество<br>патрубков, шт</th>
<th style="background:linear-gradient(100deg,#e4e4e4 0%,#cfcfcf 50%,#a6a6a6 100%)">L, мм</th>
</tr>
<tr><td class="f">1</td><td>до 1200</td></tr>
<tr><td class="f">2</td><td>от 1200 до 2200</td></tr>
<tr><td class="f">3</td><td>от 2200 до 2950</td></tr>
</table>

</body></html>
